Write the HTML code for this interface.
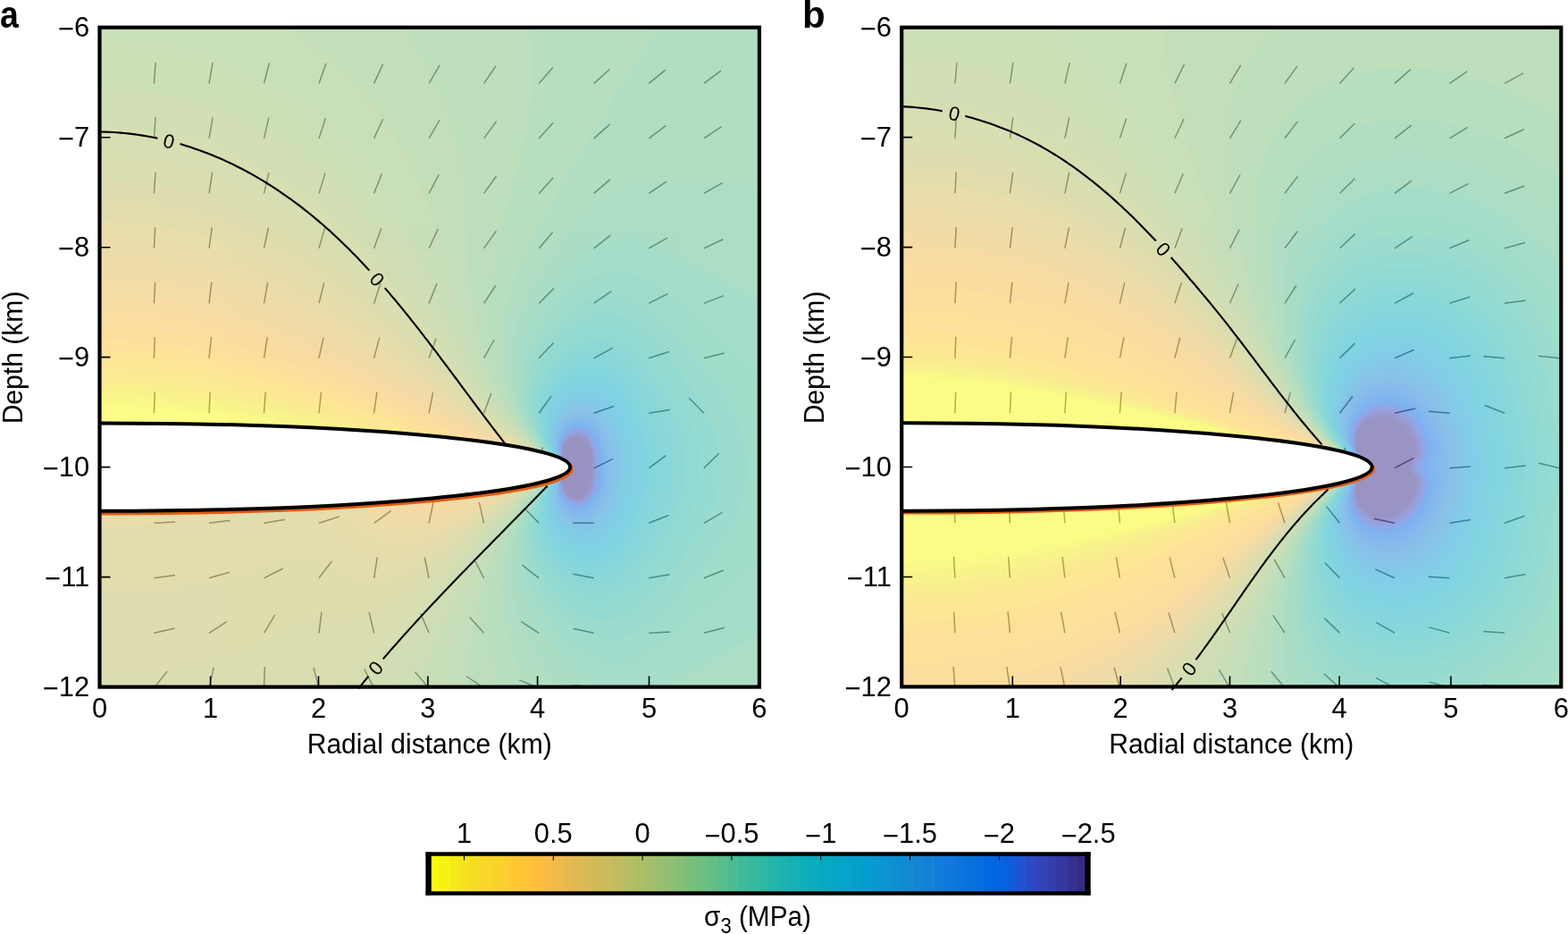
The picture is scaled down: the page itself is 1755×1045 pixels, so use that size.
<!DOCTYPE html><html><head><meta charset="utf-8"><style>html,body{margin:0;padding:0;background:#fff;width:1755px;height:1045px;overflow:hidden}svg{display:block}text{font-family:"Liberation Sans",Arial,sans-serif}</style></head><body>
<svg width="1755" height="1045" viewBox="0 0 1755 1045">
<clipPath id="ca"><rect x="111.5" y="30.7" width="738.4" height="737.9"/></clipPath>
<g clip-path="url(#ca)">
<path d="M172.4 93.4L174.2 69.7M234 93.4L238.1 70M295.5 93.4L301.5 70.3M357 93.4L364.9 70.9M418.6 93.4L428.6 71.8M480.1 93.4L492.1 72.8M541.6 93.4L555.1 73.8M603.2 93.4L618.8 75.4M664.7 93.4L682.4 77.5M726.2 93.4L744.7 78.4M787.8 93.4L806.9 79.2M172.4 154.9L174.1 131.1M234 154.9L238.1 131.4M295.5 154.9L300.9 131.7M357 154.9L364.4 132.2M418.6 154.9L428.6 133.3M480.1 154.9L492 134.3M541.6 154.9L555.6 135.6M603.2 154.9L619.1 137.2M664.7 154.9L682.5 139.1M726.2 154.9L745.2 140.6M787.8 154.9L807.6 141.7M172.4 216.4L174.1 192.6M234 216.4L237.7 192.9M295.5 216.4L300.9 193.2M357 216.4L364 193.6M418.6 216.4L427.5 194.3M480.1 216.4L491.3 195.4M541.6 216.4L555.5 197M603.2 216.4L619.2 198.7M664.7 216.4L682.8 200.9M726.2 216.4L746 203.2M787.8 216.4L808.5 204.7M172.4 277.9L173.7 254.1M234 277.9L237.3 254.3M295.5 277.9L300.4 254.6M357 277.9L363.6 255M418.6 277.9L426.7 255.5M480.1 277.9L490.2 256.3M541.6 277.9L555.4 258.4M603.2 277.9L618.6 259.8M664.7 277.9L683.4 263.1M726.2 277.9L747 266.2M787.8 277.9L809.3 267.8M172.4 339.4L173.7 315.6M234 339.4L236.9 315.7M295.5 339.4L299.6 315.9M357 339.4L362.8 316.3M418.6 339.4L425.9 316.7M480.1 339.4L489 317.3M541.6 339.4L554.8 319.5M603.2 339.4L620 322.5M664.7 339.4L684.2 325.8M726.2 339.4L747.5 328.7M787.8 339.4L810 330.9M172.4 400.8L173.3 377.1M234 400.8L236.5 377.2M295.5 400.8L299.2 377.3M357 400.8L362 377.6M418.6 400.8L424.7 377.9M480.1 400.8L488.2 378.5M541.6 400.8L553.2 380M603.2 400.8L619.5 383.5M664.7 400.8L685.6 389.4M726.2 400.8L748.9 393.5M787.8 400.8L810.8 394.9M172.4 462.3L173.3 438.6M234 462.3L235.2 438.6M295.5 462.3L297.2 438.6M357 462.3L359.5 438.7M418.6 462.3L421.9 438.8M480.1 462.3L484.6 439M541.6 462.3L549.8 440M603.2 462.3L617.2 443.1M664.7 462.3L687.2 454.5M726.2 462.3L749.7 458.6M787.8 462.3L771.2 445.2M603.2 523.8L607.3 500.4M664.7 523.8L686.1 513.4M726.2 523.8L745.3 509.6M787.8 523.8L804.8 507.2M172.4 585.3L196.2 584.1M234 585.3L257.6 582.4M295.5 585.3L318.9 581.2M357 585.3L379.7 578M418.6 585.3L437.8 571.3M480.1 585.3L485 562M541.6 585.3L536.3 562.1M603.2 585.3L586.6 568.2M664.7 585.3L640.9 584.9M726.2 585.3L748.3 576.5M787.8 585.3L808.4 573.4M172.4 646.8L196 643.5M234 646.8L256.8 640.3M295.5 646.8L316.7 636M357 646.8L371.4 627.8M418.6 646.8L422.3 623.3M480.1 646.8L475.2 623.5M541.6 646.8L530.8 625.6M603.2 646.8L584.4 632.2M664.7 646.8L641.3 642.3M726.2 646.8L749.7 642.7M787.8 646.8L809.9 638M172.4 708.3L195.6 703M234 708.3L253.9 695.3M295.5 708.3L307.8 687.9M357 708.3L359.9 684.7M418.6 708.3L413.2 685.1M480.1 708.3L470.8 686.4M541.6 708.3L525.7 690.6M603.2 708.3L583.2 695.3M664.7 708.3L641.5 703.2M726.2 708.3L750 707M787.8 708.3L810.8 702.3M172.4 769.8L187.1 751M234 769.8L239.3 746.6M295.5 769.8L296.3 746M357 769.8L350.9 746.8M418.6 769.8L407.8 748.6M480.1 769.8L464.5 751.8M541.6 769.8L521.9 756.5M603.2 769.8L581.1 760.9M664.7 769.8L641.1 766.5M726.2 769.8L702.4 769.4M787.8 769.8L811.5 767.7" stroke="#000" stroke-opacity="0.6" stroke-width="1.5" fill="none"/>
<g opacity="0.5">
<rect x="108.5" y="27.7" width="744.4" height="743.9" fill="#352a87"/>
<path fill="#363093" d="M114.4 27.7 852.9 27.7 852.9 771.6 108.5 771.6 108.5 27.7 114.4 27.7ZM638.7 489.4 633.2 494 630.4 499.4 629.3 503.6 629.8 512.2 635.8 523.6 631.1 529.3 629.4 535 629.2 540.7 631.9 549.2 636.1 554.2 641.8 557.1 647.5 557.2 652.8 554.9 656 552.1 660.9 543.5 662.6 535 662.5 509.3 659.3 497.9 653.2 490.5 650.3 488.9 644.6 487.8 638.7 489.4Z"/>
<path fill="#3637a0" d="M114.4 27.7 852.9 27.7 852.9 771.6 108.5 771.6 108.5 27.7 114.4 27.7ZM637 489.4 631.8 495.1 628.9 503.6 629.6 512.2 635.7 523.6 632.8 526.4 629.9 532.1 628.8 537.8 629.2 543.5 631.2 549.2 636.1 555.3 641.8 558.2 647.5 558.4 653.2 556.1 656 553.7 659.4 549.2 661.9 543.5 663.5 535 663.1 506.5 658.9 495.2 653.2 489.2 650.3 487.6 644.6 486.7 637 489.4Z"/>
<path fill="#353dad" d="M114.4 27.7 852.9 27.7 852.9 771.6 108.5 771.6 108.5 27.7 114.4 27.7ZM640.2 486.5 633.2 491.7 629 500.8 628.5 506.5 629.4 512.2 635.7 523.6 632.7 526.4 629.7 532.1 628.5 540.7 630.4 548.9 634.5 554.9 641.8 559.4 647.5 559.7 653.2 557.5 656.4 554.9 660.6 549.2 662.9 543.5 664.3 535 664.3 509.3 661.5 497.9 656 489.9 653.2 487.7 647.5 485.6 640.2 486.5Z"/>
<path fill="#3243ba" d="M114.4 27.7 852.9 27.7 852.9 771.6 108.5 771.6 108.5 27.7 114.4 27.7ZM637.8 486.5 631.9 492.2 628.5 500.8 628.2 506.5 629.2 512.2 635.6 523.6 632.6 526.4 629.5 532.1 628.2 537.8 628.3 543.5 630.4 550.4 636.1 557.6 641.8 560.5 647.5 561 653.2 559 656 557 660.2 552.1 663.1 546.4 665.3 535 664.9 506.5 661.7 495.9 656 488.3 653.2 486.3 647.5 484.3 641.8 484.7 637.8 486.5Z"/>
<path fill="#2c4ac7" d="M114.4 27.7 852.9 27.7 852.9 771.6 108.5 771.6 108.5 27.7 114.4 27.7ZM641.2 483.7 636.1 486.4 633.2 489.1 628.6 497.9 627.8 503.6 628.9 512.2 635.6 523.6 632.5 526.4 629.3 532.1 627.9 537.8 627.9 543.5 630.4 551.9 634.8 557.8 641.8 561.9 647.5 562.4 653.2 560.6 657.1 557.8 661.6 552.1 664.2 546.4 666.3 535 666.3 509.3 663.9 497.9 658.9 489.4 656 486.5 650.3 483.5 644.6 482.9 641.2 483.7Z"/>
<path fill="#2053d4" d="M114.4 27.7 852.9 27.7 852.9 771.6 108.5 771.6 108.5 27.7 114.4 27.7ZM638.2 483.7 631.9 489.4 628 497.9 627.4 503.6 628.7 512.2 635.5 523.6 632.4 526.4 629.1 532.1 627.7 537.8 627.5 543.5 629.7 552.1 633.2 557.6 638.9 562.1 647.5 563.8 653.2 562.2 658.9 557.9 663 552.1 665.4 546.4 667.4 535 667.1 506.5 664 495.1 660.6 489.4 656 484.8 647.5 481.5 641.8 482.1 638.2 483.7Z"/>
<path fill="#0f5cdd" d="M114.4 27.7 852.9 27.7 852.9 771.6 108.5 771.6 108.5 27.7 114.4 27.7ZM641.3 480.8 636.1 483.6 633.2 486.2 629.3 492.2 627.5 497.7 627 503.6 628.5 512.2 635.4 523.6 632.3 526.4 628.9 532.1 627 543.5 628.9 552.1 633.2 559.1 638.9 563.4 647.5 565.3 653.2 563.9 658.9 559.9 662.9 554.9 665.7 549.2 668.3 537.8 668.5 509.3 665.3 495.1 658.9 485.3 656 483 650.3 480.4 644.6 480.1 641.3 480.8Z"/>
<path fill="#0363e1" d="M114.4 27.7 852.9 27.7 852.9 771.6 108.5 771.6 108.5 27.7 114.4 27.7ZM638.1 480.8 633.2 484.6 630.4 488.4 626.9 497.9 626.8 506.5 628.3 512.2 635.4 523.6 632.2 526.4 628.7 532.1 626.6 540.7 626.7 546.4 629.3 554.9 633.2 560.6 638.9 565 647.5 566.9 653.2 565.6 658.9 562 662.7 557.8 667.1 549.2 669.7 535 669.5 506.5 667.7 497.9 665.5 492.2 658.9 483.3 653.2 479.6 647.5 478.4 641.8 479.1 638.1 480.8Z"/>
<path fill="#0268e1" d="M114.4 27.7 852.9 27.7 852.9 771.6 108.5 771.6 108.5 27.7 114.4 27.7ZM640.7 478 636.1 480.5 632.6 483.7 628.8 489.4 626.8 495.1 626.1 503.6 627.2 509.3 629.5 515 633.2 519.5 635.3 523.6 632 526.4 628.5 532.1 626.7 537.8 626.2 546.4 628.4 554.9 633.2 562.3 638.9 566.5 647.5 568.6 653.2 567.5 658.9 564.2 664.5 557.8 667.5 552.1 670.8 537.8 671 509.3 668.2 495.1 665.7 489.4 661.6 483.7 656 479.1 650.3 477 644.6 476.9 640.7 478Z"/>
<path fill="#046de0" d="M114.4 27.7 852.9 27.7 852.9 771.6 108.5 771.6 108.5 27.7 114.4 27.7ZM644.9 475.1 638.9 477 633.2 481.3 629.3 486.5 626.8 492.2 625.6 500.8 626.8 509.3 629.3 515 633.2 519.6 635.2 523.6 631.9 526.4 628.3 532.1 626.3 537.8 625.6 546.4 627.5 555 633.2 564 638.9 568.2 647.5 570.4 653.2 569.4 658.9 566.3 664.6 560.5 669.1 552.1 672.2 537.8 672.5 512.2 670.6 497.9 668.7 492.2 664.6 484.8 661.2 480.8 656 477.1 650.3 475.2 644.9 475.1Z"/>
<path fill="#0871de" d="M114.4 27.7 852.9 27.7 852.9 771.6 108.5 771.6 108.5 27.7 114.4 27.7ZM639.2 475.1 633.2 479.4 630.4 482.8 627.5 487.9 625.4 495.1 625.3 503.6 626.5 509.3 629.1 515 633.2 519.6 635.2 523.6 629.7 529.3 626.9 535 625.4 540.7 625.3 549.2 627.7 557.8 633.2 565.8 641.8 571.2 650.3 572 656 570.3 661.8 566.3 666.6 560.6 670.8 552.1 673.7 537.8 673.6 506.5 672.2 497.9 669.2 489.4 665.9 483.7 661.7 478.8 656 474.9 650.3 473.2 644.6 473.3 639.2 475.1Z"/>
<path fill="#0d75dc" d="M114.4 27.7 852.9 27.7 852.9 771.6 108.5 771.6 108.5 27.7 114.4 27.7ZM641.4 472.3 636.1 475.1 630.4 480.7 627.5 485.5 625.2 492.2 624.6 500.8 626.2 509.3 628.9 515 633.2 519.7 635.1 523.6 629.5 529.3 626.6 535 625 540.7 624.6 549.2 627.5 559.8 633.2 567.8 641.8 573.2 650.3 574.1 656 572.6 661.7 569 667.4 562.6 671.5 554.9 674.1 546.4 675.3 537.8 675.2 506.5 673.9 497.9 671.1 489.4 668.1 483.7 663.6 478 658.9 474.2 653.2 471.7 647.5 471 641.4 472.3Z"/>
<path fill="#1079da" d="M114.4 27.7 852.9 27.7 852.9 771.6 108.5 771.6 108.5 27.7 114.4 27.7ZM644.1 469.5 638.9 471.3 633.2 475.4 627.5 483 625 489.4 623.9 497.9 625 506.5 628.7 515 633.2 519.8 635 523.6 629.4 529.3 626.3 535 624.1 543.5 624 549.2 626.7 560.6 633.2 569.9 641.8 575.2 650.3 576.3 658.9 573.6 664.6 569.3 669.2 563.5 673.4 554.9 677 537.8 677.2 509.3 674.1 492.2 670.3 483.7 666.4 478 661.7 473.5 656 470.3 650.3 468.9 644.1 469.5Z"/>
<path fill="#127dd8" d="M114.4 27.7 852.9 27.7 852.9 771.6 108.5 771.6 108.5 27.7 114.4 27.7ZM638.4 469.5 633.2 473.2 629.1 478 625.9 483.7 623.6 492.2 623.5 500.8 625.6 509.3 628.5 515 633.2 519.9 635 523.6 629.2 529.3 626 535 623.6 543.5 623.5 552.1 626.8 563.5 633.2 572.1 641.8 577.4 650.3 578.7 658.9 576.3 664.6 572.3 670.3 565.6 675.5 554.9 677.8 546.4 679.1 535 678.5 503.6 676.9 495.1 674 486.5 670.3 479.7 664.6 472.9 658.9 469 653.2 467 644.6 467 638.4 469.5Z"/>
<path fill="#1481d6" d="M114.4 27.7 852.9 27.7 852.9 771.6 108.5 771.6 108.5 27.7 114.4 27.7ZM639.4 466.6 633.2 470.8 629.3 475.1 625.9 480.8 623.2 489.4 622.6 497.9 624.2 506.5 628.3 515 633.2 520 634.9 523.6 629 529.3 625.7 535 623.1 543.5 623 554.9 626.9 566.3 633.2 574.5 641.8 579.7 647.5 581.1 653.2 580.9 661.5 577.7 667.4 572.9 673.1 565.1 677.7 554.9 679.8 546.4 681.1 535 680.5 503.6 678.2 492.2 675 483.7 670.3 475.8 664.6 469.8 658.9 466.2 653.2 464.4 647.5 464.2 639.4 466.6Z"/>
<path fill="#1485d4" d="M114.4 27.7 852.9 27.7 852.9 771.6 108.5 771.6 108.5 27.7 114.4 27.7ZM640.2 463.8 633.2 468.3 629.5 472.3 625.8 478 622.7 486.5 622 497.9 623.8 506.5 628.1 515 633.2 520.1 634.9 523.6 628.8 529.3 624.2 537.8 622.1 546.4 622.1 554.9 625.3 566.3 628.7 572 633.2 577 641.8 582.3 647.5 583.7 653.2 583.6 661.7 580.7 667.4 576.5 673.5 569.2 679 557.8 682 546.4 683.3 535 682.7 503.6 680.5 492.2 677.5 483.7 672.8 475.1 667.4 468.8 661.7 464.6 653.2 461.6 647.5 461.6 640.2 463.8Z"/>
<path fill="#1389d3" d="M114.4 27.7 852.9 27.7 852.9 771.6 108.5 771.6 108.5 27.7 114.4 27.7ZM640.5 460.9 633.2 465.5 627.5 472 624.2 478 621.8 485.7 621.1 495.1 623.4 506.5 626 512.2 633.2 520.2 634.8 523.6 628.6 529.3 623.8 537.8 621.5 546.4 621.2 554.9 622 560.6 624.7 568.3 631.2 577.7 636.1 582 641.8 585 647.5 586.5 653.2 586.6 661.7 584 670.1 577.7 676 570 680.5 560.6 683.9 549.2 685.5 537.8 686 520.7 685.4 506.5 683.7 495.1 680.2 483.7 675.9 475.1 670.3 467.8 664.6 462.9 656 459.2 647.5 458.8 640.5 460.9Z"/>
<path fill="#108ed2" d="M114.4 27.7 852.9 27.7 852.9 771.6 108.5 771.6 108.5 27.7 114.4 27.7ZM640.3 458.1 633.2 462.6 627.5 468.8 623.9 475.1 621 483.7 620.3 495.1 623 506.5 625.8 512.2 633.2 520.2 634.7 523.6 628.4 529.3 623.3 537.8 620.8 546.4 620.4 557.8 623.4 569.2 627.5 576.5 631 580.6 636.1 584.9 641.8 587.9 647.5 589.5 653.2 589.7 661.7 587.5 670.3 581.7 676.1 574.9 682.2 563.5 685.9 552.1 688.1 537.8 688.7 520.7 688 506.5 685.6 492.2 681.8 480.8 677.4 472.3 670.5 463.8 664.6 459.2 656 455.9 647.5 455.8 640.3 458.1Z"/>
<path fill="#0c93d2" d="M114.4 27.7 852.9 27.7 852.9 771.6 108.5 771.6 108.5 27.7 114.4 27.7ZM649.2 452.4 641.8 454.2 633.2 459.4 626.7 466.6 621.1 478 619.3 489.4 620.6 500.8 625.5 512.2 633.2 520.3 634.7 523.6 628.2 529.3 622.9 537.8 620.2 546.4 619.3 554.9 620.2 563.5 621.8 569.3 624.7 575.5 630.4 583.2 636.1 588 641.8 591.1 647.5 592.7 653.2 593.1 661.7 591.3 670.3 586.1 677.9 577.7 682.9 569.2 687.2 557.8 689.9 546.4 691.4 532.1 691.6 517.9 690.6 503.6 688.5 492.2 684.9 480.8 679.2 469.5 672.2 460.9 664.6 455.3 656 452.5 649.2 452.4Z"/>
<path fill="#0998d1" d="M114.4 27.7 852.9 27.7 852.9 771.6 108.5 771.6 108.5 27.7 114.4 27.7ZM645.7 449.5 638.9 452.2 630.4 458.6 624.3 466.6 619.6 478 618.4 492.2 620.9 503.6 625.2 512.2 629.9 517.9 633.2 520.4 634.6 523.6 628 529.3 622.5 537.8 619.5 546.4 618.3 557.8 619.4 566.3 621.8 573.8 624.7 579.4 630 586.3 636.1 591.4 641.8 594.5 647.5 596.2 653.2 596.8 661.7 595.3 670.3 590.7 678.8 582 685 572 689.6 560.6 693 546.4 694.7 532.1 694.8 515 693.3 500.8 690.2 486.5 685.9 475.1 679.2 463.8 673.1 457 664.6 451.2 656 448.7 645.7 449.5Z"/>
<path fill="#079ccf" d="M114.4 27.7 852.9 27.7 852.9 771.6 108.5 771.6 108.5 27.7 114.4 27.7ZM642.9 446.7 636.1 450.2 627.5 458 621.8 466.8 618.1 478 617.5 492.2 620.3 503.6 624.9 512.2 629.7 517.9 633.2 520.5 634.5 523.6 625.5 532.1 620.7 540.7 617.6 552.1 617.5 563.5 619 571 621.8 578.5 630.4 590.4 636.1 595.1 641.8 598.2 647.5 600.1 656 600.6 664.6 598.6 674.9 592 682.4 583.4 688.9 572 694 557.8 697 543.5 698.5 526.4 697.9 509.3 695.8 495.1 692 480.8 685.4 466.6 678.8 457.3 670.3 449.7 661.7 445.7 653.2 444.5 642.9 446.7Z"/>
<path fill="#06a0cd" d="M114.4 27.7 852.9 27.7 852.9 771.6 108.5 771.6 108.5 27.7 114.4 27.7ZM648 441 638.9 444.4 630.4 450.7 622.4 460.9 617.7 472.3 616.1 486.5 618.7 500.8 624.6 512.2 629.5 517.9 633.2 520.6 634.5 523.6 625.2 532.1 620.2 540.7 616.7 552.1 616.1 563.5 617.5 572 620.5 580.6 624.7 587.9 630.4 594.5 636.1 599.2 641.8 602.3 647.5 604.2 656 605.1 664.6 603.4 674.7 597.7 683.2 589.1 690.4 577.7 696.3 563.5 700 549.2 702.2 532.1 702.3 515 700.4 497.9 696.9 483.7 691.3 469.5 684.5 458 676 448.6 667.4 443.1 658.9 440.5 648 441Z"/>
<path fill="#06a4ca" d="M114.4 27.7 852.9 27.7 852.9 771.6 108.5 771.6 108.5 27.7 114.4 27.7ZM642.8 438.1 633.2 443.8 624.9 452.4 619 462.5 615.8 472.3 614.9 486.5 618 500.8 624.2 512.2 629.3 517.9 633.2 520.7 634.4 523.6 624.9 532.1 619.6 540.7 615.8 552.1 614.9 566.3 616.3 574.9 619.3 583.4 624.7 592.6 630.4 599.1 636.1 603.6 644.6 607.9 653.2 609.8 658.9 609.7 670.3 606.3 678.8 600.4 687.4 590.9 695.1 577.7 700.7 563.5 705.4 543.5 707 526.4 706.4 509.3 703.6 492.2 698.4 475.1 691.6 460.9 683.5 449.5 673.7 441 664.6 436.7 653.2 435.5 642.8 438.1Z"/>
<path fill="#06a7c6" d="M114.4 27.7 852.9 27.7 852.9 771.6 108.5 771.6 108.5 27.7 114.4 27.7ZM644.6 432.4 633.2 438.9 624.7 447.5 618.2 458.1 614.5 469.5 613.4 478 613.7 486.5 617.3 500.8 623.8 512.2 629 517.9 633.2 520.8 634.3 523.6 624.6 532.1 617.7 543.5 614.2 554.9 613.5 569.2 614.9 577.7 617.8 586.3 621.8 593.8 627.5 601.1 633.2 606.4 641.8 611.7 650.3 614.5 658.9 615.1 670.3 612.3 680 606.2 688.4 597.7 697.6 583.4 704.8 566.3 709.4 549.2 712 529.3 711.8 512.2 708.6 492.2 703.5 475.1 695.9 458.9 687.4 446.4 678.8 438.1 667.4 431.9 656 430.1 644.6 432.4Z"/>
<path fill="#07a9c2" d="M114.4 27.7 852.9 27.7 852.9 771.6 108.5 771.6 108.5 27.7 114.4 27.7ZM645.1 426.7 633.2 433.4 624.7 441.8 617.8 452.4 613.3 464.9 611.8 480.8 612.9 489.4 615.4 497.9 619.5 506.5 623.4 512.2 628.8 517.9 633.2 520.9 634.3 523.6 624.2 532.1 617 543.5 612.6 557.8 611.9 572 613.3 580.6 616.1 589.2 621.8 599.7 627.5 606.7 636.1 613.9 644.6 618.4 653.2 620.7 661.7 620.9 673.1 617.7 684.5 610 693.2 600.5 702.1 586.3 709.5 569.2 715.2 549.2 717.9 529.3 717.6 512.2 714.4 492.2 708.1 472.3 700 455.2 690.2 441.1 678.8 430.8 667.4 425.5 656 424.3 645.1 426.7Z"/>
<path fill="#0aacbe" d="M114.4 27.7 852.9 27.7 852.9 771.6 108.5 771.6 108.5 27.7 114.4 27.7ZM653.6 418.2 647.5 419.7 638.9 423.6 627.5 432.5 618.8 443.8 612.5 458.1 610.6 466.6 610 475.1 610.6 483.7 612.5 492.2 615.8 500.8 620.8 509.3 625.6 515 633.2 521.1 634.2 523.6 623.8 532.1 616.3 543.5 611.3 557.8 610 572 611.5 583.4 615.3 594.8 620 603.4 626.7 611.9 636.1 619.9 644.6 624.5 653.2 627.1 661.7 627.6 673.1 625.1 684.5 618.5 695.9 607 705.9 592 714 574.9 720.5 554.9 723.8 537.8 724.7 517.9 722.3 497.9 716.8 478 708.4 458.1 698.8 442 690.2 431.8 678.8 422.9 667.4 418.5 661.7 417.7 653.6 418.2Z"/>
<path fill="#0faeb9" d="M114.4 27.7 852.9 27.7 852.9 771.6 108.5 771.6 108.5 27.7 114.4 27.7ZM648.3 412.5 636.1 418.6 624.7 428.7 619 436.1 614.6 443.8 609.6 458.1 608.3 466.6 608.4 478 609.8 486.5 612.5 495.1 620.3 509.3 625.3 515 633.2 521.3 634.2 523.6 623.4 532.1 614.1 546.4 609.4 560.6 608.2 577.7 610.1 589.1 614.1 600.5 619 609.1 627.5 619.6 636.1 626.6 644.6 631.4 653.2 634.2 664.6 635 673.1 633.3 678.8 631 690.2 623.3 701.6 611.1 712.2 594.8 721.6 574.9 728.3 554.9 731.9 535 732.3 515 729.4 495.1 722.4 472.3 711.7 449.5 700.3 432.4 687.4 419.6 676 413 670.3 411.2 661.7 410.2 648.3 412.5Z"/>
<path fill="#15b1b4" d="M114.4 27.7 852.9 27.7 852.9 771.6 108.5 771.6 108.5 27.7 114.4 27.7ZM650.2 403.9 636.1 411 624.7 421 614.5 435.3 610.5 443.8 607.8 452.4 606.3 460.9 606 472.3 607.1 480.8 610.3 492.2 614.2 500.8 619.8 509.3 625 515 633.2 521.4 634.1 523.6 623 532.1 613.2 546.4 609.6 554.9 607.3 563.5 606 580.6 608.3 594.8 612.5 606.2 619 617.2 627.5 627.2 636.1 634.2 647.5 640.4 656 642.8 667.4 643.4 676 641.6 681.7 639.3 693.2 631.8 706.7 617.6 718.1 600.5 729.6 577.7 737.5 554.9 741.1 535 741.5 515 737.9 492.2 730.3 469.5 717.6 443.8 704.5 424.9 692 412.5 678.8 404.7 673.1 402.9 664.6 401.7 656 402.4 650.2 403.9Z"/>
<path fill="#1db3af" d="M114.4 27.7 852.9 27.7 852.9 771.6 108.5 771.6 108.5 27.7 114.4 27.7ZM659.4 392.5 650.3 394.8 641.8 398.8 627.5 409.4 619.7 418.2 613.9 426.7 606.5 443.8 604.1 455.2 603.5 466.6 604.3 475.1 607 486.5 611.7 497.9 617 506.5 624.7 515 633.2 521.6 634 523.6 622.6 532.1 612.3 546.4 605.6 563.5 603.7 574.9 603.5 583.4 605.5 597.7 609.2 609.1 616.1 622.2 624.7 633 633.2 640.8 644.6 648 656 652.1 667.4 653.3 681.7 650.3 695.9 642.1 709.4 629 723.9 609.1 737.9 583.4 746.8 560.6 751.8 537.8 752.6 517.9 749.6 495.1 742.5 472.3 731.7 449.5 715.4 423.9 701.6 408.1 687.4 397.6 678.8 393.9 673.1 392.6 659.4 392.5Z"/>
<path fill="#25b5a9" d="M114.4 27.7 852.9 27.7 852.9 771.6 108.5 771.6 108.5 27.7 114.4 27.7ZM662.4 381.1 653.2 383.4 644.6 387.1 636.1 392.4 627.5 399.5 619 408.8 613.3 417 607.6 427.8 603.8 438.1 601.4 449.5 600.8 463.8 602.3 475.1 605.5 486.5 610.8 497.9 616.4 506.5 624.3 515 632.2 520.7 634 523.6 625.3 529.3 619.5 535 609.7 549.2 603.1 566.3 601.1 577.7 600.7 586.3 602.2 600.5 606.4 614.8 613.3 628.3 621.8 639.9 633.2 650.8 644.6 658.2 658.9 663.5 670.3 664.6 678.8 663.5 687.4 660.7 701.6 652 710.2 644.3 718.8 634.7 735.3 611.9 750 586.3 759.4 563.5 764.9 540.7 766.1 517.9 763.1 495.1 760.1 483.7 754.8 469.5 741.8 443.8 724.8 418.2 707.4 398.2 693.1 387.4 678.8 381.7 670.3 380.6 662.4 381.1Z"/>
<path fill="#2eb7a4" d="M114.4 27.7 852.9 27.7 852.9 771.6 108.5 771.6 108.5 27.7 114.4 27.7ZM656.9 369.7 647.5 373.6 638.9 378.7 630.4 385.3 621.8 393.8 613.9 403.9 608.6 412.5 604.5 421 600.6 432.4 598.3 443.8 597.6 458.1 599.5 472.3 602.8 483.7 608 495.1 615.7 506.5 623.9 515 632 520.7 633.9 523.6 625 529.3 619 535 612.1 543.5 607 552.1 603.2 560.6 599.7 572 597.9 583.4 597.7 594.8 600.3 611.9 605.3 626.1 613.3 640.4 624.7 654.5 636.1 664.6 650.3 673 661.7 676.9 676 678 684.5 676.6 693.1 673.5 701.6 668.8 710.2 662.3 721.1 651.8 731.2 640.4 752.1 611.9 767.1 586.3 776.5 563.5 779.7 552.1 782.2 537.8 782.9 515 781.2 500.8 778 486.5 774.2 475.1 768 460.9 751.4 432.4 739.4 415.3 727.3 400.3 710.2 383 701.6 376.5 693.1 371.7 684.5 368.7 676 367.3 667.4 367.4 656.9 369.7Z"/>
<path fill="#38b99e" d="M114.4 27.7 852.9 27.7 852.9 771.6 108.5 771.6 108.5 27.7 114.4 27.7ZM663.5 352.6 653.2 356.4 641.8 362.8 630.4 371.6 621.8 380.1 613.3 390.8 606.8 401.1 601.2 412.5 597.3 423.9 594.5 438.1 594 452.4 595.8 466.6 599.9 480.8 605.2 492.2 612.6 503.6 620.2 512.2 631.9 520.7 633.8 523.6 628.6 526.4 618.4 535 611.2 543.5 604.2 554.9 599.2 566.3 596 577.7 594.3 589.1 594 600.5 596.4 617.6 601.9 634.3 610.4 650.3 621.8 665.1 636.1 678.4 650.3 687.5 664.6 692.9 678.8 694.4 690.2 692.7 698.8 689.6 707.4 684.9 718.8 676.3 730.2 665.8 743.2 651.8 770.4 617.6 786.7 592 797 569.2 800.6 557.8 803.6 543.5 805.1 529.3 805.2 517.9 803.9 503.6 801.1 489.4 796.7 475.1 790.6 460.9 782.9 446.7 773.7 432.4 744.9 395.4 721.6 371.4 710.2 362.3 701.6 357.1 693.1 353.4 681.7 351 673.1 350.9 663.5 352.6Z"/>
<path fill="#42bb98" d="M114.4 27.7 852.9 27.7 852.9 771.6 108.5 771.6 108.5 27.7 114.4 27.7ZM667.1 332.7 656 337 644.6 343.7 633.2 352.5 621.8 363.7 613.3 374.2 604.7 387.3 597.9 401.1 593.3 414.5 590.4 429.6 589.7 443.8 591.6 460.9 595.6 475.1 602.1 489.4 611.7 503.6 619.7 512.2 631.7 520.7 633.8 523.6 624.3 529.3 614.9 537.8 608.1 546.4 601.1 557.8 595 572 591.8 583.4 589.9 597.7 589.8 609.1 592.9 629 599 646.8 609.7 666 621.8 681.5 636.1 695.2 653.2 706.8 670.3 713.4 684.5 714.9 695.9 713.3 707.4 709 718.8 702.2 730.2 693.7 745.4 680.3 762.4 663.2 783.4 640.4 800 620.5 817 594.8 822.7 583.4 828.4 569.2 834.5 543.5 835.9 529.3 835.9 515 833.9 497.9 830.7 483.7 825.9 469.5 819.5 455.2 811.3 441 801.4 426.7 772.2 392.5 738.1 358.3 724.2 346.9 710.2 337.8 701.6 333.8 690.2 330.9 678.8 330.5 667.1 332.7Z"/>
<path fill="#4dbc92" d="M114.4 27.7 852.9 27.7 852.9 424.5 835.1 406.8 817.9 389.7 776.2 352.6 750.1 331.2 733 319.2 715.9 309.7 704.5 305.4 690.2 303.6 681.7 304.3 673.1 306.4 656 314.2 636.1 329 619 346.7 604.7 366.4 593.3 388.9 587 409.6 584.7 432.4 585.6 446.7 587.7 458.1 592.1 472.3 597.2 483.7 604.1 495.1 613.3 506.5 622.6 515 631.6 520.7 633.7 523.6 623.9 529.3 617 535 609.1 543.5 601 554.9 594.9 566.3 590.4 577.7 587.2 589.1 585.3 600.5 585.2 623.3 586.8 634.7 590.5 648.5 600.6 671.7 616.1 695.1 627.5 708.1 638.9 718.8 650.3 727.5 664.6 735.6 676 739.7 687.4 741.6 698.8 741 707.4 739 718.8 734.2 733 726.1 747.3 716.3 763.9 703.1 821.9 651.8 838.5 634.7 852.9 620.7 852.9 771.6 108.5 771.6 108.5 27.7 114.4 27.7Z"/>
<path fill="#59bd8c" d="M114.4 27.7 852.9 27.7 852.9 339.6 772.2 292.8 744.4 278.2 727.3 271.3 713.1 267.2 701.6 266 690.2 267.2 676 271.9 658.9 281.8 641.8 295.8 624.7 313.6 610.4 331.8 597.4 352.6 588.1 372.6 582.6 389.7 579.2 409.6 578.8 429.6 581.7 449.5 587 466.6 595.2 483.7 607.2 500.8 618.5 512.2 631.4 520.7 633.6 523.6 619.7 532.1 608 543.5 595.7 560.6 587.4 577.7 582 594.8 578.9 614.8 578.8 631.8 581.7 651.8 586.7 668.9 593.3 684.7 601.9 700.4 613.3 717.4 624.7 731.7 638.9 746.8 653.2 759.2 666.9 771.6 108.5 771.6 108.5 27.7 114.4 27.7ZM852.9 705.7 852.9 771.6 741 771.6 770.1 753.7 852.9 705.7Z"/>
<path fill="#65be86" d="M114.4 27.7 852.9 27.7 852.9 209.6 821.4 209.3 758.7 204.6 730.2 204.1 707.4 206.3 698.8 209 687.4 214.6 673.1 224.4 656 239.8 638.9 258.4 621.8 279.9 607.6 300.5 595.2 321.3 585.5 341.2 578.1 361.2 572.9 384 571 406.8 572.7 429.6 578.2 452.4 588 475.1 601.1 495.1 614.5 509.3 621.7 515 631.2 520.7 633.6 523.6 622.9 529.3 606.8 543.5 593.6 560.6 584.2 577.7 577.6 594.8 572.9 614.8 571.1 634.7 572 654.6 577 680.3 587.6 708.9 602.8 737.3 624.3 771.6 108.5 771.6 108.5 27.7 114.4 27.7Z"/>
<path fill="#71bf80" d="M114.4 27.7 733.8 27.7 720.2 56.3 684.5 112.2 650.3 169.2 601.9 254.7 587.6 283.3 577.5 307.1 569.8 329.8 565 349.8 561.7 375.4 561.9 401.1 565.7 426.7 572.6 449.5 583.4 472.3 597.1 492.2 613.6 509.3 621.1 515 630.4 520.2 633.5 523.6 622.5 529.3 611.4 537.8 600.2 549.2 589.4 563.5 580.8 577.7 574.1 592 568.2 609.1 564.2 626.1 561.9 643.2 561.3 660.3 562.3 677.4 564.8 694.5 568.7 711.6 574 728.7 581.9 749.1 590.8 771.6 108.5 771.6 108.5 27.7 114.4 27.7Z"/>
<path fill="#7cbf7b" d="M114.4 27.7 591.6 27.7 594.8 50.6 596 70.6 595.5 93.4 593.4 116.2 589.5 141.8 584.3 167.5 561 258.6 553.1 295.7 549.9 318.5 548.2 338.4 547.9 358.3 548.8 375.4 551.8 398.2 557.1 421 565.2 443.8 575 463.8 586.1 480.8 600.3 497.9 612.7 509.3 620.4 515 630.4 520.3 633.5 523.6 622 529.3 610.5 537.8 598.6 549.2 588.9 560.6 579 574.9 570.9 589.1 564.4 603.4 558.2 620.5 553.7 637.5 550.5 654.6 547.9 688.8 549.8 725.9 556.8 771.6 108.5 771.6 108.5 27.7 114.4 27.7Z"/>
<path fill="#87bf77" d="M114.4 27.7 449.3 27.7 465 52.2 479.3 75.6 489.7 96.2 499 119 506.3 141.8 512.4 167.5 516.3 190.2 519.4 215.9 525.9 304.2 529.9 341.2 536.5 378.3 546.2 412.5 554.1 432.4 562.5 449.5 572.8 466.6 583.2 480.8 595.8 495.1 608.1 506.5 619.8 515 630.4 520.5 633.4 523.6 626.5 526.4 613 535 602.7 543.5 591.3 554.9 581.7 566.3 571.6 580.6 563 594.8 554.5 611.9 542.8 643.2 534.3 677.4 528.3 717.3 523.9 771.6 108.5 771.6 108.5 27.7 114.4 27.7Z"/>
<path fill="#92bf73" d="M114.4 27.7 318.1 27.7 339.6 44.4 359.5 59.2 379.5 76.2 396.6 93 413.7 112.4 428 131 442.2 152.6 455.4 176 467.9 202.6 479.8 233 490.7 266.1 522.2 372.6 533.8 403.9 545.7 429.6 555.3 446.7 564.6 460.9 585.3 486.5 606.9 506.5 619.2 515 630.4 520.6 633.3 523.6 626.1 526.4 612 535 601.1 543.5 588.9 554.9 569.4 577.7 550.8 606.2 536.7 634.7 524.5 666 513.5 700.2 493.8 771.6 108.5 771.6 108.5 27.7 114.4 27.7Z"/>
<path fill="#9cbf6f" d="M114.1 44.9 151.4 47.2 185.6 52.3 219.8 60.7 251.2 71.4 282.6 85.3 313.9 102.9 342.4 122.6 368.1 144.1 388 163.7 408 186.6 425.6 210.2 444 238.7 456.5 260.8 470.7 288.8 522.7 401.1 536.5 426.7 549.2 446.7 569.1 472.3 588.4 492.2 609.5 509.3 618.5 515 630.4 520.7 633.2 523.5 625.7 526.4 615.3 532.1 592.6 549.2 569.9 572 549.9 597.7 535.4 620.5 520.3 648.9 464.7 771.6 108.5 771.6 108.5 43.3 114.1 44.9Z"/>
<path fill="#a5be6b" d="M112.3 96.2 114.4 99.1 151.4 101.3 185.6 106.5 214.1 113.5 242.6 122.8 271.2 134.8 299.7 149.7 325.3 165.9 351 185.1 373.8 205.1 393.7 225.3 413.7 248.2 430.8 270.4 462.2 317.1 523 418.2 536.5 438.1 549.7 455.2 567.6 475.1 589.2 495.1 608.3 509.3 617.7 515 630.1 520.7 633.1 523.6 625.3 526.4 614.3 532.1 593.9 546.4 571.4 566.3 548.1 592 535.1 609.1 521.8 629 462.2 728.2 435.4 771.6 108.5 771.6 108.5 95.4 112.3 96.2Z"/>
<path fill="#aebe67" d="M114 141.8 148.6 144.1 177.1 148.1 205.6 154.3 234.1 162.9 262.6 174.1 288.3 186.4 313.9 201.2 339.6 218.6 362.4 236.5 382.3 254.2 402.3 274.1 422.3 296.2 456.5 339 522.5 429.6 536.2 446.7 551.6 463.8 569.5 480.8 590.4 497.9 607 509.3 616.9 515 629.7 520.7 632.8 523.6 624.8 526.4 613.4 532.1 591.6 546.4 570.6 563.5 547.2 586.3 532.2 603.4 516.7 623.3 445.1 721.2 425.1 745.7 404.7 771.6 108.5 771.6 108.5 140.5 114 141.8Z"/>
<path fill="#b7bd64" d="M114.4 174.7 142.9 176 171.4 179.4 199.9 185.2 225.5 192.3 254 202.4 279.7 213.8 305.4 227.3 331 243.2 353.8 259.5 373.8 275.5 393.7 293.2 413.7 312.6 450.8 353.1 522.2 438.1 549.5 466.6 569.2 483.7 592.1 500.8 610.6 512.2 629.4 520.7 632.5 523.6 612.3 532.1 593.6 543.5 570.4 560.6 547.5 580.6 518.1 611.9 459.3 682.2 430.8 714.6 402.3 744 375.2 771.6 108.5 771.6 108.5 174.6 114.4 174.7Z"/>
<path fill="#c0bc60" d="M113.5 201.6 140 202.7 168.5 205.9 197 211.3 222.7 218.1 248.3 226.7 274 237.2 299.7 249.8 325.3 264.6 348.1 279.6 368.1 294.2 388 310.4 410.9 330.5 447.9 366.9 523.5 446.7 551.2 472.3 569.3 486.5 590 500.8 609.4 512.2 629 520.7 632.2 523.6 617.1 529.3 600.8 537.8 582.8 549.2 563 563.5 535.6 586.3 482.1 638 459.3 658.4 436.5 675.6 416.6 686.8 402.3 692.1 388 694.9 376.6 695.5 351 694.5 339.6 696.3 299.7 714.7 271.2 726.2 239.8 736.7 208.4 744.8 162.8 752.6 108.5 756.1 108.5 201.3 113.5 201.6Z"/>
<path fill="#c8bc5d" d="M114.4 225.6 140 226.6 168.5 229.7 194.2 234.4 219.8 240.7 245.5 248.9 271.2 258.9 296.8 270.8 319.6 283 342.4 296.8 362.4 310.3 405.1 343.2 442.2 376 522.8 452.4 550 475.1 569.8 489.4 592.4 503.6 614.1 515 628.6 520.7 631.9 523.6 610.1 532.1 579.9 549.2 546.8 572 499.2 610.4 476.4 627.3 453.6 640.8 433.7 648.6 422.3 650.8 413.7 651.1 396.6 648.4 382.3 642.4 351 624.1 339.6 621.3 333.9 622.1 299.7 632.9 268.3 641.6 217 652.7 165.7 659.7 108.5 662.4 108.5 224.9 114.4 225.6Z"/>
<path fill="#d1bb59" d="M114.4 247 140 248 165.7 250.7 191.3 255 217 261 242.6 268.6 268.3 278.1 291.1 287.9 316.8 300.8 359.5 326.2 402.3 356.6 442.2 388.8 519.4 455.2 548.9 478 570.6 492.2 590.2 503.6 610.4 513.9 628.3 520.7 631.6 523.6 610.4 531.4 576.8 549.2 549.4 566.3 502.1 599 482.1 611 462.2 620.2 442.2 625.3 430.8 625.9 422.3 625 410.9 621.8 401.9 617.6 393 611.9 382.7 603.4 351 571.6 342.4 566 336.7 564.5 265.5 576.3 214.1 583.1 162.8 587.5 108.5 589.1 108.5 247 114.4 247Z"/>
<path fill="#d9ba56" d="M114.4 266.5 140 267.5 162.8 269.7 188.5 273.7 214.1 279.3 236.9 285.6 262.6 294.3 288.3 304.7 313.9 316.7 356.7 340.4 399.4 368.5 436.5 395.8 516.1 458.1 544.8 478.8 584.8 502.2 607.6 513.3 627.9 520.7 631.4 523.6 610.4 530.7 584.8 543.1 559.1 557.2 507.8 587.8 490.7 596.6 470.7 604.4 450.8 608.1 439.4 607.9 428 605.6 416.6 600.9 408 595.7 399.4 588.9 391.1 580.6 371.4 554.9 367.4 552.1 336.7 549.8 108.5 550.9 108.5 266 114.4 266.5Z"/>
<path fill="#e1b952" d="M112.2 287.1 165.7 291.2 211.3 299.4 234.1 305.3 259.8 313.4 305.4 331.5 348.1 352.9 393.7 379.9 436.5 408.3 515.4 463.8 546.5 483.7 587.6 505.3 607.6 514 627.5 520.7 631.1 523.6 616.1 528 590.5 538.7 502.1 582.4 479.3 589.8 462.2 592.3 445.1 590.9 436.5 588.5 428 584.8 419.4 579.5 410.9 572.5 392 552.1 377.3 549.2 336.7 547.2 108.5 548.1 108.5 287 112.2 287.1Z"/>
<path fill="#e9b94e" d="M114.4 309.7 160 312.3 182.8 315.3 208.4 320 254 332 302.5 349.6 345.3 369.1 388 392 430.8 417.4 514.2 469.5 544.1 486.5 586.5 506.5 607.6 514.8 626.7 520.7 630.8 523.6 616.1 527.5 595.8 535 510.6 570.9 490.7 576.5 473.6 578.6 456.5 577.2 442.2 572.6 428 564.1 414.1 552.1 402.6 549.2 379.5 546.6 339.6 545.2 108.5 545.9 108.5 310.2 114.4 309.7Z"/>
<path fill="#f1b94a" d="M114.4 329.8 160 332.2 205.6 339 251.2 350 296.8 365.1 339.6 382.7 382.3 403.2 425.1 425.9 508.5 472.3 541.7 489.4 582.1 506.5 605.9 515 625.8 520.7 630.5 523.6 600.2 532.1 519.2 561.6 502.1 565.8 485 567.8 470.7 567 459.3 564.5 447.9 559.8 435.1 552.1 424.4 549.2 404.4 546.4 382.3 544.7 339.6 543.3 108.5 544.2 108.5 329.1 114.4 329.8Z"/>
<path fill="#f8bb44" d="M114.4 348.4 157.1 350.5 202.7 356.6 245.5 365.9 291.1 379.5 331 394.2 376.6 413.8 502.2 475.1 539.3 492.2 576.7 506.5 603 515 624.9 520.7 629.9 523.6 606.2 529.3 550.5 547.3 527.7 553.8 510.6 557.4 496.4 558.9 476.4 557.6 446.4 549.2 428.1 546.4 379.5 542.6 339.6 541.8 108.5 542.6 108.5 348.5 114.4 348.4Z"/>
<path fill="#fdbe3d" d="M114.4 365.9 157.1 367.9 199.9 373.1 242.6 381.6 288.3 394 328.2 407.4 368.1 422.8 495.2 478 536.8 495.1 579.5 509.3 623.7 520.7 629.1 523.6 603 529.3 539.1 546.9 519.2 550.6 504.9 551.7 485 550.9 425.5 543.5 372.1 540.7 108.5 541.2 108.5 365.9 114.4 365.9Z"/>
<path fill="#ffc337" d="M114.4 380.4 154.3 382 197 386.7 239.8 394.5 282.6 405.1 319.6 416.3 362.4 431.2 489.2 480.8 535.6 497.9 584.3 512.2 622.4 520.7 628.4 523.6 599.7 529.3 536.3 544.6 507.8 547.6 487.8 547.1 409.3 540.7 370.9 539.5 108.5 540.1 108.5 380.1 114.4 380.4Z"/>
<path fill="#fec832" d="M114.4 390.8 154.3 392.4 194.2 396.5 236.9 403.7 279.7 413.6 316.8 424.1 356.7 436.9 486.1 483.7 530.6 498.8 579.8 512.2 621 520.7 627.6 523.6 596.5 529.3 542 541.3 510.6 544.9 487.8 544.6 413.7 539.7 365.2 538.3 108.5 539.2 108.5 390.8 114.4 390.8Z"/>
<path fill="#fcce2e" d="M114.4 401 151.4 402.3 191.3 406 231.2 412.2 274 421.2 311.1 430.9 351 442.7 482.9 486.5 528.9 500.8 574.6 512.2 619 520.6 626.5 523.6 607.9 526.4 542 539.3 510.6 542.5 487.8 542.4 416.6 538.6 365.2 537.3 108.5 538.3 108.5 401 114.4 401Z"/>
<path fill="#fad32a" d="M114.4 410.9 151.4 412.1 191.3 415.7 231.2 421.5 271.2 429.4 345.3 448.5 469.8 486.5 519.5 500.8 568.2 512.2 617.7 520.7 625.4 523.6 542 537.5 507.8 540.5 362.4 536.4 108.5 537.5 108.5 411 114.4 410.9Z"/>
<path fill="#f7d826" d="M114.4 420.3 160 422 194.2 425.2 234.1 430.8 265.5 436.6 339.6 454.1 465.1 489.4 520.4 503.6 560.8 512.2 615.6 520.7 624.2 523.6 539.1 536.2 504.9 538.7 359.5 535.5 108.5 536.8 108.5 420.3 114.4 420.3Z"/>
<path fill="#f5de21" d="M114.4 427.4 148.6 428.3 185.6 431.1 222.7 435.7 262.6 442.5 331 457.5 464.2 492.2 511.5 503.6 559.1 513.1 613.3 520.7 622.8 523.6 533.4 535.3 504.9 537.1 359.5 534.7 108.5 536.1 108.5 427.1 114.4 427.4Z"/>
<path fill="#f5e41d" d="M114.4 434.2 148.6 435.1 182.8 437.5 219.8 441.8 256.9 447.6 328.2 462.2 451.3 492.2 504.9 504.4 553.4 513.3 610.7 520.7 621.1 523.6 536.3 533.6 502.1 535.8 359.5 534 108.5 535.3 108.5 434.2 114.4 434.2Z"/>
<path fill="#f5eb18" d="M114.4 440.9 148.6 441.8 182.8 444.1 217 447.8 254 453.2 319.6 465.7 449.4 495.1 499.2 505.5 550.5 514.2 607.4 520.7 619.1 523.6 533.4 532.5 499.2 534.4 359.5 533.3 108.5 534.6 108.5 440.7 114.4 440.9Z"/>
<path fill="#f6f313" d="M114.4 447.6 145.7 448.3 179.9 450.4 248.3 458.4 316.8 470.5 439.4 496.3 493.5 506.8 553.4 516 602.8 520.7 616.2 523.6 520.4 532.1 493.5 533.2 362.4 532.6 108.5 533.8 108.5 447.6 114.4 447.6Z"/>
<path fill="#f9fb0e" d="M114.4 454.6 149.2 455.2 191.9 458.1 242.6 463.9 313.9 475.5 422.3 497 485 508.2 544.8 516.6 596.3 520.7 611.5 523.6 587.6 524.8 538.9 529.3 482.1 532.1 370.9 531.7 108.5 533 108.5 454.6 114.4 454.6Z"/>
</g>
<ellipse cx="112.7" cy="525" rx="526.7" ry="49.2" fill="none" stroke="#e35a12" stroke-width="4.4"/>
<ellipse cx="111.5" cy="522.6" rx="526.7" ry="49.2" fill="#fff" stroke="#000" stroke-width="4"/>
</g>
<path d="M111.5 768.6v-12M111.5 30.7h12M235.6 768.6v-12M111.5 153.7h12M356.5 768.6v-12M111.5 276.7h12M478.9 768.6v-12M111.5 399.6h12M601.6 768.6v-12M111.5 522.6h12M726.5 768.6v-12M111.5 645.6h12M849.9 768.6v-12M111.5 768.6h12" stroke="#000" stroke-width="1.6" fill="none"/>
<rect x="111.5" y="30.7" width="738.4" height="737.9" fill="none" stroke="#000" stroke-width="4.2"/>
<text transform="translate(111.5 803) scale(0.965 1)" font-size="32" text-anchor="middle">0</text>
<text transform="translate(100.2 40.8) scale(0.965 1)" font-size="32" text-anchor="end"><tspan dy="2.6">−</tspan><tspan dy="-2.6">6</tspan></text>
<text transform="translate(235.6 803) scale(0.965 1)" font-size="32" text-anchor="middle">1</text>
<text transform="translate(100.2 163.8) scale(0.965 1)" font-size="32" text-anchor="end"><tspan dy="2.6">−</tspan><tspan dy="-2.6">7</tspan></text>
<text transform="translate(356.5 803) scale(0.965 1)" font-size="32" text-anchor="middle">2</text>
<text transform="translate(100.2 286.8) scale(0.965 1)" font-size="32" text-anchor="end"><tspan dy="2.6">−</tspan><tspan dy="-2.6">8</tspan></text>
<text transform="translate(478.9 803) scale(0.965 1)" font-size="32" text-anchor="middle">3</text>
<text transform="translate(100.2 409.8) scale(0.965 1)" font-size="32" text-anchor="end"><tspan dy="2.6">−</tspan><tspan dy="-2.6">9</tspan></text>
<text transform="translate(601.6 803) scale(0.965 1)" font-size="32" text-anchor="middle">4</text>
<text transform="translate(100.2 532.7) scale(0.965 1)" font-size="32" text-anchor="end"><tspan dy="2.6">−</tspan><tspan dy="-2.6">10</tspan></text>
<text transform="translate(726.5 803) scale(0.965 1)" font-size="32" text-anchor="middle">5</text>
<text transform="translate(100.2 655.7) scale(0.965 1)" font-size="32" text-anchor="end"><tspan dy="2.6">−</tspan><tspan dy="-2.6">11</tspan></text>
<text transform="translate(849.9 803) scale(0.965 1)" font-size="32" text-anchor="middle">6</text>
<text transform="translate(100.2 778.7) scale(0.965 1)" font-size="32" text-anchor="end"><tspan dy="2.6">−</tspan><tspan dy="-2.6">12</tspan></text>
<text transform="translate(480.7 843) scale(0.955 1)" font-size="31.5" text-anchor="middle">Radial distance (km)</text>
<text transform="translate(24.5 400) rotate(-90) scale(0.955 1)" font-size="31.5" text-anchor="middle">Depth (km)</text>
<clipPath id="cb"><rect x="1009.2" y="30.7" width="738.1" height="737.7"/></clipPath>
<g clip-path="url(#cb)">
<path d="M1068.9 93.4L1071.1 69.7M1130.4 93.4L1134 69.8M1191.9 93.4L1197.3 70.2M1253.4 93.4L1260.9 70.8M1314.9 93.4L1325.4 72M1376.5 93.4L1388.7 73M1438 93.4L1451.9 74.1M1499.5 93.4L1515.4 75.7M1561 93.4L1578.8 77.6M1622.5 93.4L1642.1 79.9M1684 93.4L1704.9 81.9M1068.9 154.8L1070.3 131.1M1130.4 154.8L1133.9 131.3M1191.9 154.8L1196.7 131.5M1253.4 154.8L1260.8 132.2M1314.9 154.8L1325 133.3M1376.5 154.8L1388.9 134.6M1438 154.8L1452.4 135.9M1499.5 154.8L1516.3 138M1561 154.8L1579.7 140.2M1622.5 154.8L1642.7 142.3M1684 154.8L1705.6 144.8M1068.9 216.3L1070.3 192.6M1130.4 216.3L1133.7 192.8M1191.9 216.3L1196.7 193M1253.4 216.3L1260.4 193.6M1314.9 216.3L1324.2 194.4M1376.5 216.3L1388 195.5M1438 216.3L1452.4 197.4M1499.5 216.3L1516.5 199.7M1561 216.3L1580.1 202.2M1622.5 216.3L1643.6 205.4M1684 216.3L1706.3 208M1068.9 277.8L1070.2 254M1130.4 277.8L1133.3 254.2M1191.9 277.8L1196.5 254.4M1253.4 277.8L1259.6 254.8M1314.9 277.8L1323.1 255.4M1376.5 277.8L1387.3 256.6M1438 277.8L1452.3 258.8M1499.5 277.8L1516.9 261.6M1561 277.8L1580.8 264.7M1622.5 277.8L1644.4 268.5M1684 277.8L1706.9 271.5M1068.9 339.3L1070.2 315.5M1130.4 339.3L1132.9 315.6M1191.9 339.3L1196.1 315.8M1253.4 339.3L1258.8 316.1M1314.9 339.3L1322.3 316.6M1376.5 339.3L1386.1 317.5M1438 339.3L1450.9 319.3M1499.5 339.3L1517 323.1M1561 339.3L1581.9 328M1622.5 339.3L1645.2 332.2M1684 339.3L1707.6 336.3M1068.9 400.7L1069.9 377M1130.4 400.7L1132.5 377M1191.9 400.7L1195.2 377.2M1253.4 400.7L1258 377.4M1314.9 400.7L1320.7 377.7M1376.5 400.7L1384.6 378.4M1438 400.7L1449.6 380M1499.5 400.7L1516.5 384.1M1561 400.7L1582.8 391.2M1622.5 400.7L1646.1 398.1M1684 400.7L1660.3 398.7M1068.9 462.2L1069.7 438.4M1130.4 462.2L1131.5 438.4M1191.9 462.2L1193.3 438.5M1253.4 462.2L1255.2 438.5M1314.9 462.2L1317 438.5M1376.5 462.2L1380.6 438.8M1438 462.2L1444.2 439.3M1499.5 462.2L1514 443.3M1561 462.2L1584.2 457.1M1622.5 462.2L1598.8 460.2M1684 462.2L1661.8 453.5M1499.5 523.7L1505.6 500.7M1561 523.7L1582.1 512.7M1622.5 523.7L1646.2 522M1684 523.7L1707.6 521M1068.9 585.2L1067.7 561.4M1130.4 585.2L1129.2 561.4M1191.9 585.2L1189.9 561.5M1253.4 585.2L1251.4 561.5M1314.9 585.2L1312 561.6M1376.5 585.2L1372.3 561.7M1438 585.2L1430.6 562.5M1499.5 585.2L1484.6 566.6M1561 585.2L1537.7 580.2M1622.5 585.2L1646 581.5M1684 585.2L1706.4 577.2M1068.9 646.7L1067.5 622.9M1130.4 646.7L1128.7 622.9M1191.9 646.7L1189.1 623M1253.4 646.7L1249.3 623.2M1314.9 646.7L1309.2 623.6M1376.5 646.7L1368.9 624.1M1438 646.7L1426.2 625.9M1499.5 646.7L1482.9 629.5M1561 646.7L1539.2 636.9M1622.5 646.7L1598.7 645.3M1684 646.7L1707.5 642.6M1068.9 708.1L1067.7 684.4M1130.4 708.1L1128.1 684.4M1191.9 708.1L1187.6 684.7M1253.4 708.1L1248.1 684.9M1314.9 708.1L1308 685.4M1376.5 708.1L1367.9 685.9M1438 708.1L1424.8 688.3M1499.5 708.1L1482.3 691.6M1561 708.1L1540.3 696.3M1622.5 708.1L1599.5 701.9M1684 708.1L1660.2 706.5M1068.9 769.6L1067 745.9M1130.4 769.6L1126.9 746.1M1191.9 769.6L1187 746.3M1253.4 769.6L1247 746.7M1314.9 769.6L1306.5 747.4M1376.5 769.6L1364.4 749.1M1438 769.6L1422.8 751.2M1499.5 769.6L1481.8 753.7M1561 769.6L1540 758.4M1622.5 769.6L1599.6 762.9M1684 769.6L1660.4 766.3M1745.5 400.7L1721.8 398.3M1745.5 523.7L1722.3 518.2" stroke="#000" stroke-opacity="0.6" stroke-width="1.5" fill="none"/>
<g opacity="0.5">
<rect x="1006.2" y="27.7" width="744.1" height="743.7" fill="#352a87"/>
<path fill="#363093" d="M1012 27.7 1750.3 27.7 1750.3 771.4 1006.2 771.4 1006.2 27.7 1012 27.7ZM1540 466.5 1533.6 468.7 1527.9 472.4 1522.2 478.7 1518.6 486.4 1517.3 497.8 1519.2 506.4 1523.9 514.9 1530.7 521.1 1531.5 523.4 1524.8 529.1 1520.9 534.8 1517.8 543.4 1517.3 551.9 1520.5 563.3 1527.9 572.6 1533.6 576.3 1539.3 578.4 1550.7 579.1 1559.2 577 1568.3 571.9 1576.3 563.8 1581.7 554.8 1584.6 546.2 1585.1 540.5 1583.7 534.8 1578.4 526.3 1577.5 523.4 1578.8 517.8 1584.1 509.2 1584.9 500.7 1582.5 492.1 1579.2 485.4 1573.5 477.9 1567.8 472.8 1562.1 469.3 1553.5 466.3 1547.8 465.7 1540 466.5Z"/>
<path fill="#3637a0" d="M1012 27.7 1750.3 27.7 1750.3 771.4 1006.2 771.4 1006.2 27.7 1012 27.7ZM1534.8 466.5 1527.9 470.6 1522.2 476.7 1519.3 481.8 1517.1 489.3 1516.8 497.8 1518.9 506.4 1523.8 514.9 1530.7 521.2 1531.4 523.4 1524.7 529.1 1520.6 534.8 1517.4 543.4 1516.9 554.8 1519.3 563.2 1522.2 568.3 1530.7 576.4 1536.4 579.2 1542.1 580.7 1553.5 580.5 1562.1 577.7 1570.6 572.3 1578.8 563.3 1583.6 554.8 1586.3 546.2 1586.8 540.5 1585.3 534.8 1579 523.4 1580.4 517.8 1585.7 509.2 1586.6 500.7 1584.3 492.1 1580.1 483.6 1573.5 475.3 1567.8 470.5 1559.2 466.1 1550.7 464.1 1542.1 464.3 1534.8 466.5Z"/>
<path fill="#353dad" d="M1012 27.7 1750.3 27.7 1750.3 771.4 1006.2 771.4 1006.2 27.7 1012 27.7ZM1537.5 463.6 1530.7 466.7 1525 471.3 1520.1 477.9 1516.8 486.4 1516.1 495 1518.6 506.4 1523.6 514.9 1530.7 521.3 1531.4 523.4 1524.5 529.1 1519 537.7 1516.5 546.2 1516.2 554.8 1519.6 566.2 1523.4 571.9 1527.9 576.3 1533.6 579.8 1539.3 582 1550.7 582.9 1562.1 579.9 1570.6 574.8 1579 566.2 1584.2 557.6 1587.4 549.1 1588.6 540.5 1587.1 534.8 1581.6 526.3 1580.9 520.6 1587.5 509.2 1588.4 500.7 1586.2 492.1 1582.2 483.6 1576.3 475.5 1569.4 469.3 1562.1 465.1 1553.5 462.5 1545 462.1 1537.5 463.6Z"/>
<path fill="#3243ba" d="M1012 27.7 1750.3 27.7 1750.3 771.4 1006.2 771.4 1006.2 27.7 1012 27.7ZM1540.9 460.8 1533.6 463.2 1525 469.3 1519.3 476.9 1516.6 483.6 1515.4 492.1 1517.2 503.5 1521.3 512.1 1526.1 517.8 1530.7 521.4 1531.4 523.4 1524.3 529.1 1518.7 537.7 1516 546.2 1515.5 554.8 1516.5 560.8 1519.3 568.1 1522.2 572.5 1527.9 578.2 1533.6 581.8 1539.3 583.9 1550.7 584.9 1562.1 582.1 1570.6 577.3 1579.3 569 1586.3 557.6 1589.3 549.1 1590.4 540.5 1589 534.8 1582.5 523.4 1584 517.8 1589.4 509.2 1590.2 500.7 1588.1 492.1 1584.4 483.6 1579.2 475.9 1572.7 469.3 1564.9 464.2 1556.4 461 1547.8 460 1540.9 460.8Z"/>
<path fill="#2c4ac7" d="M1012 27.7 1750.3 27.7 1750.3 771.4 1006.2 771.4 1006.2 27.7 1012 27.7ZM1547.3 457.9 1536.4 460 1527.9 464.7 1520.7 472.2 1516.5 480.7 1514.7 492.1 1516.8 503.5 1521.1 512.1 1526 517.8 1530.7 521.4 1531.4 523.4 1524.1 529.1 1518.3 537.7 1515.4 546.2 1514.8 554.8 1517.2 566.2 1520.1 571.9 1525 577.9 1530.7 582.3 1536.4 585 1547.8 587.1 1559.2 585.5 1567.8 581.7 1576.9 574.7 1585.6 563.3 1590.5 551.9 1592.4 540.5 1591 534.8 1585.6 526.3 1584.7 520.6 1591.4 509.2 1592.4 503.5 1591 495 1587.7 485.9 1583.2 477.9 1576.3 469.7 1570.6 465.1 1562.1 460.5 1553.5 458.3 1547.3 457.9Z"/>
<path fill="#2053d4" d="M1012 27.7 1750.3 27.7 1750.3 771.4 1006.2 771.4 1006.2 27.7 1012 27.7ZM1536.2 457.9 1527.9 462.5 1522.2 467.8 1517.5 475 1514.7 483.6 1514.3 495 1517.5 506.4 1523.1 514.9 1529.8 520.6 1531.3 523.4 1524 529.1 1518 537.7 1514.4 549.1 1514.5 560.5 1516.5 567.5 1519.3 573.2 1527.9 582.5 1539.3 588.1 1547.8 589.3 1553.5 589 1564.9 585.7 1573.7 580.4 1582.4 571.9 1589.4 560.5 1593.4 549.1 1594.4 540.5 1593.2 534.8 1587.7 526 1587 520.6 1593.6 509.2 1594.2 500.7 1591.4 489.3 1587.5 480.7 1581.6 472.2 1573.5 464.4 1564.9 459.2 1556.4 456.4 1545 455.8 1536.2 457.9Z"/>
<path fill="#0f5cdd" d="M1012 27.7 1750.3 27.7 1750.3 771.4 1006.2 771.4 1006.2 27.7 1012 27.7ZM1537.9 455.1 1530.7 458.3 1522.2 465.4 1517.5 472.2 1514.3 480.7 1513.4 492.1 1516 503.5 1520.6 512.1 1530.7 521.6 1531.3 523.4 1523.8 529.1 1517.7 537.7 1513.8 549.1 1513.6 560.5 1515.8 569 1518.6 574.7 1522.2 579.6 1527.9 584.9 1539.3 590.4 1545 591.5 1553.5 591.5 1564.9 588.4 1576.3 581.4 1585.3 571.9 1591.8 560.5 1595.6 549.1 1596.6 540.5 1595.5 534.8 1590.4 526.3 1589.4 523.4 1589.6 520.6 1595.9 509.2 1596.4 500.7 1594.6 492.1 1590 480.7 1584.5 472.2 1576.3 463.6 1567.8 457.9 1556.4 454 1547.8 453.3 1537.9 455.1Z"/>
<path fill="#0363e1" d="M1012 27.7 1750.3 27.7 1750.3 771.4 1006.2 771.4 1006.2 27.7 1012 27.7ZM1539.1 452.2 1530.7 455.8 1522.2 462.7 1516.5 471.1 1513.6 478.9 1512.7 492.1 1515.5 503.5 1520.4 512.1 1529.7 520.6 1531.3 523.4 1523.6 529.1 1517.3 537.7 1513.2 549.1 1512.6 560.5 1513.6 566.2 1516.5 573.9 1519.3 578.7 1525 585.1 1530.7 589.2 1539.3 592.8 1545 594 1553.5 594 1564.9 591.2 1576.3 584.7 1586.1 574.7 1593 563.3 1597.2 551.9 1599 540.5 1598 534.8 1592.3 523.4 1592.5 520.6 1598.3 509.2 1598.7 500.7 1596.1 489.3 1591.1 477.9 1584.9 468.7 1576.9 460.8 1567.8 455 1559.2 451.9 1547.8 450.8 1539.1 452.2Z"/>
<path fill="#0268e1" d="M1012 27.7 1750.3 27.7 1750.3 771.4 1006.2 771.4 1006.2 27.7 1012 27.7ZM1540.1 449.4 1530.7 453.2 1522.2 460 1516.5 467.8 1512.7 477.9 1511.8 483.6 1512 492.1 1515.1 503.5 1520.1 512.1 1529.6 520.6 1531.3 523.4 1523.5 529.1 1517 537.7 1512.6 549.1 1511.7 560.5 1513.1 569 1515.3 574.7 1519.3 581.6 1525 587.7 1530.7 591.8 1539.3 595.4 1545 596.6 1553.5 596.8 1564.9 594.2 1576.3 588.1 1587.2 577.6 1594.4 566.2 1598.9 554.8 1601.3 543.4 1600.7 534.8 1595.5 523.4 1595.7 520.6 1600.9 509.2 1601.2 500.7 1598.6 489.3 1593.9 477.9 1587.7 468.1 1579.2 459.2 1570.6 453.4 1559.2 449.1 1550.7 448.1 1540.1 449.4Z"/>
<path fill="#046de0" d="M1012 27.7 1750.3 27.7 1750.3 771.4 1006.2 771.4 1006.2 27.7 1012 27.7ZM1540.3 446.5 1530.7 450.4 1522.2 457.1 1516.5 464.5 1512.1 475 1510.9 489.3 1513.5 500.7 1519.9 512.1 1529.5 520.6 1531.2 523.4 1523.3 529.1 1515.1 540.5 1511.4 551.9 1510.9 563.3 1512.6 571.9 1514.9 577.6 1519.3 584.7 1525 590.6 1530.7 594.6 1539.3 598.2 1545 599.4 1553.5 599.7 1564.9 597.3 1576.3 591.6 1587.7 581.3 1595.9 569 1600.7 557.6 1603.9 543.4 1603.5 534.8 1599.1 523.4 1599.3 520.6 1603.7 509.2 1604.1 503.5 1601.3 489.3 1596.9 477.9 1589.9 466.5 1582 457.9 1573.5 451.6 1562.1 446.8 1550.7 445.2 1540.3 446.5Z"/>
<path fill="#0871de" d="M1012 27.7 1750.3 27.7 1750.3 771.4 1006.2 771.4 1006.2 27.7 1012 27.7ZM1539.8 443.7 1530.7 447.5 1521.1 455.1 1515 463.6 1510.8 475 1510.1 489.3 1513 500.7 1519.7 512.1 1529.5 520.6 1531.2 523.4 1523.1 529.1 1514.7 540.5 1510.7 551.9 1510.1 566.2 1512.1 574.7 1514.4 580.4 1519.3 587.9 1525 593.6 1530.7 597.5 1539.3 601.2 1547.8 602.7 1556.4 602.6 1570.6 598.4 1581.2 591.8 1590.6 582.5 1599 569 1603.6 557.6 1606.7 543.4 1606.6 534.8 1603.1 523.4 1606.7 509.2 1606.6 500.7 1603.3 486.4 1598.6 475 1591.4 463.6 1582 453.8 1573.5 448 1562.1 443.5 1550.7 442.1 1539.8 443.7Z"/>
<path fill="#0d75dc" d="M1012 27.7 1750.3 27.7 1750.3 771.4 1006.2 771.4 1006.2 27.7 1012 27.7ZM1538.7 440.8 1527.9 446 1519.3 453.7 1513.6 462.2 1510 472.2 1509 486.4 1512.5 500.7 1519.4 512.1 1529.4 520.6 1531.2 523.4 1522.9 529.1 1517.9 534.8 1514.3 540.5 1510 551.9 1508.9 566.2 1510.5 574.7 1513.6 582.8 1519.3 591.3 1525 596.9 1530.7 600.7 1539.3 604.4 1547.8 606 1556.4 605.9 1570.6 602.2 1582 595.4 1591.7 586.1 1601 571.9 1606.6 557.6 1609.6 543.4 1609.8 534.8 1607.2 523.4 1609.9 509.2 1609.8 503.5 1607.1 489.3 1601.9 475 1595.3 463.6 1584.9 451.9 1573.5 444.2 1562.1 440 1550.7 438.8 1538.7 440.8Z"/>
<path fill="#1079da" d="M1012 27.7 1750.3 27.7 1750.3 771.4 1006.2 771.4 1006.2 27.7 1012 27.7ZM1537 438 1527.9 442.6 1519.3 450 1513.6 458.1 1509.2 469.3 1507.8 477.9 1508 486.4 1511.9 500.7 1519.2 512.1 1529.3 520.6 1531.2 523.4 1526.3 526.3 1519.9 532 1512.4 543.4 1508.6 554.8 1508 569 1509.7 577.6 1513.6 587 1519.3 595 1525 600.3 1533.6 605.6 1542.1 608.5 1550.7 609.7 1559.2 609.2 1573.5 604.9 1584.9 597.7 1596 586.1 1603.1 574.7 1609 560.5 1612.8 543.4 1613.1 534.8 1611.5 523.4 1613.2 509.2 1612.7 500.7 1608.7 483.6 1602.6 469.3 1595.3 457.9 1584.9 447.3 1573.5 440.1 1562.1 436.3 1547.8 435.5 1537 438Z"/>
<path fill="#127dd8" d="M1012 27.7 1750.3 27.7 1750.3 771.4 1006.2 771.4 1006.2 27.7 1012 27.7ZM1544.3 432.3 1533.6 435.7 1522.2 443.3 1513.6 453.7 1508.2 466.5 1506.7 475 1506.8 483.6 1510.2 497.8 1514.5 506.4 1518.9 512.1 1529.2 520.6 1531.1 523.4 1526.2 526.3 1519.7 532 1511.8 543.4 1507.8 554.8 1506.7 569 1508 577.6 1510.9 586.1 1516.5 595.5 1522.2 601.7 1527.9 606.1 1536.4 610.5 1545 612.9 1556.4 613.4 1570.6 610.3 1582 604.5 1593.6 594.7 1604 580.4 1611.5 563.3 1615.8 546.2 1616.7 537.7 1615.8 523.4 1616.7 506.4 1614.5 492.1 1609.1 475 1601.7 460.8 1592.7 449.4 1582 440.5 1570.6 434.7 1556.4 431.6 1544.3 432.3Z"/>
<path fill="#1481d6" d="M1012 27.7 1750.3 27.7 1750.3 771.4 1006.2 771.4 1006.2 27.7 1012 27.7ZM1539.7 429.5 1527.9 434.9 1519.3 442 1510.8 454.1 1506.5 466.5 1505.4 475 1505.7 483.6 1509.5 497.8 1514.1 506.4 1518.6 512.1 1529.2 520.6 1531.1 523.4 1526.1 526.3 1519.5 532 1511.3 543.4 1506.3 557.6 1505.5 571.9 1506.9 580.4 1510.8 590.9 1516.5 599.8 1522.2 605.8 1530.7 611.8 1539.3 615.4 1547.8 617.3 1559.2 617.4 1573.5 613.8 1587.7 605.6 1599.1 594.4 1608.2 580.4 1615.3 563.3 1619.8 543.4 1620.5 534.8 1620.1 503.5 1616.7 486.4 1610.5 469.3 1602.5 455.1 1592.7 443.7 1581.4 435.2 1567.8 429.3 1553.5 427.3 1539.7 429.5Z"/>
<path fill="#1485d4" d="M1012 27.7 1750.3 27.7 1750.3 771.4 1006.2 771.4 1006.2 27.7 1012 27.7ZM1545.2 423.8 1530.7 428.9 1519.3 437.5 1510.8 448.9 1506 460.8 1504.4 469.3 1504.1 477.9 1505.2 486.4 1507.7 495 1511.9 503.5 1515.9 509.2 1521.2 514.9 1529.1 520.6 1531.1 523.4 1526 526.3 1519.2 532 1510.8 543.4 1505.4 557.6 1504.2 566.2 1504.3 574.7 1506.5 586.1 1510 594.7 1515.5 603.2 1522.2 610.2 1530.7 616.1 1539.3 619.8 1547.8 621.7 1559.2 621.9 1573.5 618.7 1587.7 611.1 1599.6 600.4 1609.7 586.1 1617.4 569 1622.8 549.1 1624.6 534.8 1624.5 509.2 1621.3 489.3 1616 472.2 1609.2 457.9 1598.8 443.7 1587.7 433.9 1573.5 426.3 1559.2 423.1 1545.2 423.8Z"/>
<path fill="#1389d3" d="M1012 27.7 1750.3 27.7 1750.3 771.4 1006.2 771.4 1006.2 27.7 1012 27.7ZM1553.5 418.1 1539.3 420.6 1530.7 424.3 1525 427.9 1519.3 432.7 1513.6 439.2 1509.1 446.5 1505.5 455.1 1503.4 463.6 1502.6 472.2 1503.2 480.7 1506 492.1 1509.8 500.7 1515.5 509.2 1520.9 514.9 1529 520.6 1531.1 523.4 1525.8 526.3 1518.9 532 1510.3 543.4 1504.5 557.6 1502.6 571.9 1503.8 583.3 1507.3 594.7 1511.8 603.2 1519.3 612.3 1527.9 619.1 1536.4 623.4 1545 625.9 1556.4 627 1570.6 624.9 1584.9 618.8 1599.1 607.8 1609.7 594.7 1618.6 577.6 1624.8 558.9 1628.7 537.7 1629.2 517.8 1627.8 500.7 1623.3 480.7 1616.2 462 1607.1 446.5 1596.3 434.5 1582 424.6 1567.8 419.4 1553.5 418.1Z"/>
<path fill="#108ed2" d="M1012 27.7 1750.3 27.7 1750.3 771.4 1006.2 771.4 1006.2 27.7 1012 27.7ZM1541.7 415.2 1527.9 421.3 1516.5 430.8 1507.9 443.1 1503.3 455.1 1501.7 463.6 1501.4 475 1502.7 483.6 1505.2 492.1 1509.2 500.7 1515.1 509.2 1520.7 514.9 1528.9 520.6 1531 523.4 1525.7 526.3 1518.7 532 1513.6 537.7 1508.2 546.2 1504.5 554.8 1502.3 563.3 1501.3 571.9 1501.6 580.4 1503.8 591.8 1507.9 601.9 1513.6 610.8 1522.2 619.6 1530.7 625.4 1542.1 629.9 1550.7 631.5 1562.1 631.5 1576.3 628.2 1591.6 620.3 1604.5 608.9 1614.9 594.7 1624.2 574.7 1630.5 551.9 1633.3 532 1633 509.2 1629 486.4 1622.7 466.5 1613.4 447.8 1602 433.4 1587.7 422.2 1573.5 415.8 1564.9 413.9 1556.4 413.2 1541.7 415.2Z"/>
<path fill="#0c93d2" d="M1012 27.7 1750.3 27.7 1750.3 771.4 1006.2 771.4 1006.2 27.7 1012 27.7ZM1545.2 409.5 1530.7 414.8 1518.5 423.8 1513.3 429.5 1507.9 437.4 1501.9 452.2 1500.3 460.8 1500 472.2 1501.7 483.6 1504.4 492.1 1508.7 500.7 1514.8 509.2 1520.5 514.9 1528.9 520.6 1531 523.4 1525.6 526.3 1518.4 532 1513.2 537.7 1507.6 546.2 1503.7 554.8 1501.2 563.3 1500 580.4 1501.7 591.8 1505.7 603.2 1510.8 612.2 1519.3 622.1 1527.9 628.5 1539.3 633.9 1550.7 636.4 1562.1 636.6 1570.6 635.3 1579.2 632.7 1593.4 625.2 1605.8 614.6 1616.8 600.4 1626.6 580.4 1633.6 557.6 1637.5 534.8 1637.6 512.1 1634 489.3 1627.3 466.5 1617.9 446.5 1607.6 432.3 1593.4 419.8 1579.2 412.3 1570.6 409.7 1562.1 408.4 1553.5 408.3 1545.2 409.5Z"/>
<path fill="#0998d1" d="M1012 27.7 1750.3 27.7 1750.3 771.4 1006.2 771.4 1006.2 27.7 1012 27.7ZM1547.4 403.8 1539.3 405.9 1530.7 409.6 1522.2 415.2 1516.5 420.3 1507.4 432.3 1503.2 440.8 1500.4 449.4 1498.5 460.8 1498.6 472.2 1500.7 483.6 1503.7 492.1 1508.1 500.7 1514.4 509.2 1520.3 514.9 1527.9 519.8 1531 523.4 1525.5 526.3 1518.1 532 1512.8 537.7 1506.9 546.2 1502.9 554.8 1500.2 563.3 1498.7 571.9 1498.4 583.3 1500.9 597.5 1505.1 608.4 1510.8 617.9 1519.3 627.4 1527.9 633.7 1539.3 639.1 1550.7 641.7 1562.1 642 1579.2 638.6 1593.4 631.7 1607.7 620.3 1619.1 606 1629.3 586.1 1636.8 563.3 1641.8 537.7 1642.5 514.9 1639.2 492.1 1632.2 466.5 1623.6 446.5 1612 429.5 1599.1 417.2 1590.6 411.6 1582 407.5 1564.9 403.2 1556.4 402.9 1547.4 403.8Z"/>
<path fill="#079ccf" d="M1012 27.7 1750.3 27.7 1750.3 771.4 1006.2 771.4 1006.2 27.7 1012 27.7ZM1547.4 398.1 1539.3 400.3 1530.7 404 1522.2 409.5 1516.5 414.5 1510.8 421 1505.2 429.5 1499.4 443.9 1497.1 455.1 1496.8 466.5 1498.2 477.9 1501.7 489.3 1505.8 497.8 1511.6 506.4 1520 514.9 1527.9 519.9 1531 523.4 1525.4 526.3 1517.8 532 1510.1 540.5 1504.8 549.1 1500.9 557.6 1498.4 566.2 1497 574.7 1496.8 586.1 1498.4 597.5 1502.2 609.3 1507.9 620 1516.5 630.5 1525 637.6 1536.4 643.7 1547.8 647 1562.1 647.9 1579.2 644.9 1587.7 641.6 1596.3 637 1610.5 625.6 1623.7 608.9 1633.6 589 1641.8 563.3 1646.8 537.7 1647.5 514.9 1643.6 489.3 1635.4 460.8 1626.5 440.8 1614.5 423.8 1602 412 1593.4 406.3 1584.9 402.2 1576.3 399.3 1564.9 397.3 1556.4 397.1 1547.4 398.1Z"/>
<path fill="#06a0cd" d="M1012 27.7 1750.3 27.7 1750.3 771.4 1006.2 771.4 1006.2 27.7 1012 27.7ZM1545.3 392.4 1536.4 395.2 1527.9 399.4 1515.1 409.5 1504.4 423.8 1497.5 440.8 1495.3 452.2 1495.2 466.5 1497 477.9 1500.8 489.3 1505.2 497.8 1511.2 506.4 1519.8 514.9 1527.9 519.9 1530.9 523.4 1525.2 526.3 1517.5 532 1509.6 540.5 1504.1 549.1 1500 557.6 1496.6 569 1495.3 577.6 1495 589 1497.2 603.2 1501.1 614.6 1507.9 626.9 1516.5 636.9 1527.9 645.6 1539.3 650.8 1550.7 653.6 1564.9 654.2 1582 650.8 1599.1 642.8 1613.4 631.5 1620.9 623.1 1627 614.6 1637.3 594.7 1646.5 566.2 1652.2 537.7 1652.9 514.9 1649 489.3 1640.2 457.9 1629.9 435.2 1617.7 418.1 1610.5 410.8 1602 404.1 1584.9 395.2 1576.3 392.6 1564.9 390.8 1553.5 391 1545.3 392.4Z"/>
<path fill="#06a4ca" d="M1012 27.7 1750.3 27.7 1750.3 771.4 1006.2 771.4 1006.2 27.7 1012 27.7ZM1558.8 383.9 1547.8 385.2 1536.4 388.6 1527.9 392.7 1519.3 398.7 1510.8 407.2 1505.1 415 1496.9 432.3 1494.1 443.7 1493 457.9 1494.5 472.2 1497.6 483.6 1502.8 495 1510.8 506.4 1519.6 514.9 1527.9 520 1530.9 523.4 1525.1 526.3 1517.2 532 1509.1 540.5 1503.3 549.1 1498 560.5 1495.3 569 1493.4 580.4 1493 589 1494.5 603.2 1498.6 617.4 1505.1 630.1 1513.6 641 1525 650.5 1536.4 656.4 1547.8 659.8 1562.1 661.2 1570.6 660.6 1582 658.2 1599.1 650.9 1607.7 645.4 1616.2 638.2 1629.1 623.1 1640.2 603.2 1649.3 577.6 1657.2 543.4 1659 520.6 1656 495 1647.3 460.8 1638.5 438 1627.6 419.7 1613.4 404.2 1604.8 397.6 1596.3 392.5 1587.7 388.7 1576.3 385.4 1558.8 383.9Z"/>
<path fill="#06a7c6" d="M1012 27.7 1750.3 27.7 1750.3 771.4 1006.2 771.4 1006.2 27.7 1012 27.7ZM1546.4 378.2 1536.4 381.3 1527.9 385.4 1513.6 396.4 1507.9 402.8 1501.6 412.4 1496.5 423.2 1493.6 432.3 1491.2 446.5 1491.3 460.8 1493.8 475 1497.7 486.4 1503.8 497.8 1510.3 506.4 1515.9 512.1 1523.3 517.8 1527.9 520.1 1530.9 523.4 1520.5 529.1 1513.9 534.8 1506.4 543.4 1501 551.9 1495.8 563.3 1492.6 574.7 1491.1 586.1 1491.2 597.5 1493.7 612.9 1499.4 628.4 1507.9 642.2 1516.5 651.3 1527.9 659.6 1539.3 664.8 1553.5 668.1 1567.8 668.4 1576.3 667.4 1587.7 664.4 1604.8 656.4 1613.4 650.6 1621.9 643.1 1629.6 634.5 1636.2 625.4 1647.4 603.2 1657.3 571.9 1664 540.5 1665.3 526.3 1665.1 514.9 1660.5 486.4 1650.3 449.4 1640.3 426.6 1627.6 408.1 1619.1 399.2 1610.5 392.3 1601.6 386.7 1590.6 381.6 1579.2 378.2 1567.8 376.5 1556.4 376.6 1546.4 378.2Z"/>
<path fill="#07a9c2" d="M1012 27.7 1750.3 27.7 1750.3 771.4 1006.2 771.4 1006.2 27.7 1012 27.7ZM1549.1 369.6 1539.3 372.3 1530.7 375.9 1522.2 381 1513.6 388 1505.1 397.8 1499.5 406.7 1495.4 415.2 1491.6 426.6 1489.1 440.8 1488.9 455.1 1490.9 469.3 1495.5 483.6 1501.3 495 1509.8 506.4 1515.5 512.1 1523.1 517.8 1527.9 520.1 1530.9 523.4 1520.3 529.1 1513.5 534.8 1505.8 543.4 1498.6 554.8 1493.7 566.2 1490.5 577.6 1488.9 589 1488.8 600.4 1491.4 617.4 1496.5 632.4 1504.2 645.9 1513.6 657 1525 665.9 1539.3 672.7 1553.5 676.1 1567.8 676.7 1576.3 675.8 1587.7 673.2 1599.1 668.9 1607.7 664.4 1624.8 651.6 1633.3 642.6 1641.3 631.7 1647.9 620.3 1653 608.9 1662.9 577.6 1670.9 540.5 1672.2 526.3 1672 514.9 1670.3 500.7 1666.8 483.6 1655.8 443.7 1645.9 420.9 1633.3 402.4 1624.8 393.4 1616.2 386.3 1604.8 379 1593.4 373.8 1582 370.3 1570.6 368.5 1559.2 368.4 1549.1 369.6Z"/>
<path fill="#0aacbe" d="M1012 27.7 1750.3 27.7 1750.3 771.4 1006.2 771.4 1006.2 27.7 1012 27.7ZM1548.2 361.1 1536.4 364.6 1527.9 368.6 1519.3 374.1 1510.8 381.6 1504 389.6 1498.4 398.1 1493 409.5 1489.3 420.9 1486.8 435.2 1486.5 452.2 1488.6 466.5 1493.1 480.7 1500.5 495 1509.3 506.4 1515.2 512.1 1522.9 517.8 1527.9 520.2 1530.8 523.4 1520.1 529.1 1513.1 534.8 1505.2 543.4 1497.7 554.8 1492.4 566.2 1488.2 580.4 1486.6 591.8 1486.5 606 1489.1 623.1 1495 640.2 1503.3 654.5 1513.6 666.1 1525 674.7 1539.3 681.4 1553.5 684.9 1570.6 685.5 1582 684 1593.4 680.9 1604.8 676.2 1613.4 671.6 1621.9 665.7 1631.7 657.3 1639.6 648.8 1647.8 637.4 1654.3 626 1659.4 614.6 1669.1 583.3 1678.1 543.4 1679.6 529.1 1679.6 514.9 1677.9 500.7 1674.4 483.6 1662.2 438 1652.3 415.2 1645.3 403.8 1638.8 395.3 1630.5 386.5 1619.1 377.2 1607.7 370.2 1596.3 365.1 1584.9 361.7 1570.6 359.5 1559.2 359.5 1548.2 361.1Z"/>
<path fill="#0faeb9" d="M1012 27.7 1750.3 27.7 1750.3 771.4 1006.2 771.4 1006.2 27.7 1012 27.7ZM1561.9 349.7 1547.8 351.6 1536.4 355 1525 360.6 1516.5 366.4 1507.9 374.3 1499.4 385.3 1493.7 395.3 1488.1 409.5 1484.5 426.6 1483.6 443.7 1485.6 460.8 1489.6 475 1496.2 489.3 1506.2 503.5 1514.8 512.1 1527.9 520.2 1530.8 523.4 1519.8 529.1 1512.7 534.8 1504.6 543.4 1496.7 554.8 1491.1 566.2 1486.5 580.4 1484.4 591.8 1483.6 606 1485.7 626 1490.8 643.1 1497.8 657.3 1507.9 670.7 1519.3 680.7 1533.6 688.8 1550.7 694 1567.8 695.4 1579.2 694.5 1590.6 692.2 1602 688.4 1613.4 683 1624.8 675.9 1633.8 668.7 1642.5 660.2 1651.6 648.8 1663.1 628.8 1672.5 603.2 1685.4 549.1 1687.5 534.8 1688.1 520.6 1687.1 506.4 1684.7 492.1 1672.2 440.8 1662.6 415.2 1650.4 394.6 1641.9 384.2 1632.7 375.3 1621.9 367.1 1610.5 360.5 1599.1 355.5 1587.7 352.1 1573.5 349.9 1561.9 349.7Z"/>
<path fill="#15b1b4" d="M1012 27.7 1750.3 27.7 1750.3 771.4 1006.2 771.4 1006.2 27.7 1012 27.7ZM1547.2 341.2 1536.4 344.4 1525 349.8 1516.5 355.4 1507.9 362.9 1499.8 372.5 1493.7 382.1 1488 394.4 1484.1 406.7 1481.2 423.8 1480.8 440.8 1483 457.9 1488.2 475 1495.2 489.3 1505.6 503.5 1514.5 512.1 1527.9 520.3 1530.8 523.4 1519.6 529.1 1509.2 537.7 1499.5 549.1 1492.5 560.5 1486.4 574.7 1482.6 589 1480.8 603.2 1480.9 617.4 1483.9 637.4 1489.5 654.5 1499.4 672 1510.8 684.8 1525 695.2 1539.3 701.6 1556.4 705.5 1573.5 706 1587.7 704.1 1599.1 701.1 1613.4 695.3 1624.8 689 1636.2 680.9 1644.7 673.3 1654.1 663 1662.3 651.6 1674 628.8 1683.1 600.4 1695.2 546.2 1697.2 529.1 1697.1 514.9 1695.5 500.7 1692.1 483.6 1683.5 446.5 1677.8 426.6 1672.4 412.4 1666.8 401 1659.8 389.6 1650.9 378.2 1639.4 366.8 1627.6 357.8 1616.2 351.1 1602 344.9 1587.7 340.9 1573.5 339 1559.2 339.2 1547.2 341.2Z"/>
<path fill="#1db3af" d="M1012 27.7 1750.3 27.7 1750.3 771.4 1006.2 771.4 1006.2 27.7 1012 27.7ZM1545.6 329.8 1533.6 333.7 1522.2 339.5 1510.8 347.7 1502.9 355.4 1496.2 363.9 1489.4 375.3 1484.5 386.7 1480.4 401 1477.8 418.1 1477.7 438 1480.2 455.1 1485.5 472.2 1492.4 486.4 1502.5 500.7 1514.1 512.1 1527.9 520.4 1530.8 523.4 1519.4 529.1 1508.7 537.7 1498.7 549.1 1489.8 563.3 1483.7 577.6 1479.8 591.8 1477.6 608.9 1477.7 626 1480.8 645.9 1487.6 665.9 1496.5 681.5 1507.9 694.7 1522.2 705.5 1539.3 713.4 1556.4 717.3 1576.3 717.8 1590.6 715.8 1604.8 711.9 1616.2 707.4 1629.9 700 1641.9 691.7 1651.9 683 1661.8 672.2 1670.6 660.2 1677.3 648.8 1683.7 634.5 1692.5 606 1705.9 543.4 1707.5 526.3 1707.1 512.1 1702.5 483.6 1692.3 438 1686.5 418.1 1681 403.8 1675.2 392.4 1668.1 381 1659 369.5 1647.6 358.1 1633.3 347.1 1619.1 339 1604.8 333.1 1587.7 328.6 1573.5 327 1559.2 327.4 1545.6 329.8Z"/>
<path fill="#25b5a9" d="M1012 27.7 1750.3 27.7 1750.3 771.4 1006.2 771.4 1006.2 27.7 1012 27.7ZM1550.4 315.5 1536.4 319.4 1525 324.4 1513.6 331.6 1502.7 341.2 1495.5 349.7 1488 361.4 1481.6 375.3 1477.3 389.6 1474.2 409.5 1474 429.5 1476.6 449.4 1482.7 469.3 1491.3 486.4 1501.8 500.7 1513.8 512.1 1527.9 520.4 1530.7 523.4 1519.1 529.1 1508.2 537.7 1495.7 551.9 1487 566.2 1480.9 580.4 1476.2 597.5 1474 614.6 1473.9 631.7 1477.1 654.5 1483.5 674.4 1493.7 692.8 1505.1 706.2 1519.3 717.3 1536.4 725.6 1556.4 730.5 1576.3 731.2 1590.6 729.6 1607.7 725.2 1621.9 719.6 1636.2 711.9 1650.4 701.9 1661.8 691.7 1672.3 680.1 1680.6 668.7 1692.7 645.9 1702 617.4 1717 546.2 1718.8 529.1 1718.8 514.9 1714.7 486.4 1703.1 432.3 1697.6 412.4 1692.3 398.1 1686.8 386.7 1678.9 373.8 1670.4 362.5 1658.1 349.7 1644.7 338.8 1630.5 329.8 1613.4 321.8 1599.1 317.3 1582 314.2 1564.9 313.7 1550.4 315.5Z"/>
<path fill="#2eb7a4" d="M1012 27.7 1750.3 27.7 1750.3 771.4 1006.2 771.4 1006.2 27.7 1012 27.7ZM1547.4 301.3 1533.6 305.5 1522.2 310.7 1510.8 318.1 1499.4 328.3 1490.8 338.8 1482.6 352.6 1476.8 366.8 1472.9 381 1470 401 1470 423.8 1473.4 446.5 1479.7 466.5 1488.3 483.6 1501 500.7 1513.4 512.1 1527.9 520.5 1530.7 523.4 1518.8 529.1 1504.6 540.5 1492.6 554.8 1484.1 569 1476.9 586.1 1471.9 606 1469.7 626 1470.2 645.9 1474 668.7 1480.9 688.6 1490.8 706.2 1497.2 714.3 1505.1 722.2 1522.2 734.3 1539.3 741.5 1559.2 745.7 1582 746 1596.3 743.9 1613.4 739.3 1630.5 732.2 1644.7 724.3 1659 714.2 1671.6 702.9 1682 691.5 1692.4 677.3 1699.1 665.9 1705.7 651.6 1714.6 623.1 1729.9 546.2 1731.8 529.1 1731.5 512.1 1728.8 492.1 1716.9 432.3 1709.5 403.8 1704.1 389.6 1697 375.3 1687.9 361.1 1678.9 349.9 1664.7 335.6 1650.4 324.5 1633.3 314.2 1616.2 306.7 1599.1 301.7 1582 299 1564.9 298.8 1547.4 301.3Z"/>
<path fill="#38b99e" d="M1012 27.7 1750.3 27.7 1750.3 771.4 1006.2 771.4 1006.2 27.7 1012 27.7ZM1547.6 284.2 1533.6 288.3 1519.3 294.9 1507.9 302.3 1496.5 312.5 1488 322.8 1479.4 336.7 1473.7 349.7 1468.7 366.8 1465.4 389.6 1465.4 415.2 1468.6 438 1475.4 460.8 1485.2 480.7 1497.6 497.8 1512.9 512.1 1527.9 520.6 1530.6 523.4 1518.5 529.1 1504 540.5 1491.6 554.8 1481 571.9 1472.7 591.8 1467.7 611.7 1465.2 631.7 1465.3 654.5 1468.5 677.3 1475.6 700 1485.1 718.1 1490.8 726 1499.4 735.4 1516.5 748.5 1536.4 757.7 1547.8 760.9 1559.2 762.7 1582 763.2 1599.1 760.9 1616.2 756.5 1633.3 749.8 1650.4 740.8 1667.5 729 1681.1 717.1 1694.2 702.9 1704.7 688.6 1711.6 677.3 1718.5 663 1723.8 648.8 1728.6 631.7 1744.7 546.2 1746.4 529.1 1746.2 512.1 1743.6 492.1 1731.4 426.6 1724.4 398.1 1718.1 381 1711 366.8 1702.1 352.6 1691 338.3 1677 324.1 1661.8 311.7 1644.7 300.9 1624.8 291.5 1604.8 285.3 1584.9 282 1564.9 281.7 1547.6 284.2Z"/>
<path fill="#42bb98" d="M1012 27.7 1750.3 27.7 1750.3 414.8 1740.1 386.7 1730.7 363.9 1717.3 341.2 1701.7 321.6 1683.5 304.1 1661.8 288.3 1639 276.1 1613.4 267 1587.7 262.3 1564.9 262 1542.1 265.8 1530.7 269.5 1519.3 274.6 1502.2 285.8 1486.8 301.3 1479.4 311.7 1474.1 321.2 1466.2 341.2 1460.9 366.8 1459.5 395.3 1462.4 423.8 1465.5 438 1469.9 452.2 1480.3 475 1494.3 495 1508.8 509.2 1516.7 514.9 1527.8 520.6 1530.4 523.4 1518.1 529.1 1510 534.8 1500.4 543.4 1486.3 560.5 1474.9 580.4 1466.5 603.2 1461.6 626 1459.5 651.6 1460.7 677.3 1463.1 691.5 1466.8 705.7 1472.3 720 1478.3 731.4 1485.1 741.5 1493.7 751.4 1505.1 761.4 1515.7 771.4 1006.2 771.4 1006.2 27.7 1012 27.7ZM1750.3 630.2 1750.3 771.4 1640.1 771.4 1659 758.5 1678.9 744.6 1696 729.3 1711.7 711.4 1723.4 694.3 1733.8 674.4 1741.3 654.5 1750.3 630.2Z"/>
<path fill="#4dbc92" d="M1012 27.7 1750.3 27.7 1750.3 348.5 1734.1 326.9 1718.8 307.5 1701.7 290.3 1681.8 274.3 1661.8 261.8 1639 251.1 1616.2 243.6 1593.4 239.4 1570.6 238.5 1550.7 240.6 1530.7 245.9 1510.8 255.3 1496.5 265.4 1482.3 279.9 1470.9 296.9 1462.3 315.9 1458.2 329.8 1455.3 344 1453.7 358.3 1453 375.3 1453.8 392.4 1455.8 409.5 1459.1 426.6 1463.1 440.8 1473.8 466.5 1480.4 477.9 1488.5 489.3 1498.6 500.7 1508.2 509.2 1516.4 514.9 1527.6 520.6 1530.3 523.4 1517.8 529.1 1505.9 537.7 1494.1 549.1 1482.9 563.3 1474.3 577.6 1466.5 594.7 1460.9 611.7 1456.9 628.8 1454.1 648.8 1453.1 668.7 1453.8 688.6 1456.7 708.6 1461.2 725.7 1468 742.7 1476.3 757 1485.1 771.4 1006.2 771.4 1006.2 27.7 1012 27.7ZM1750.3 696.5 1750.3 771.4 1684.9 771.4 1704.6 752.1 1721.7 734.2 1735.9 715.5 1750.3 696.5Z"/>
<path fill="#59bd8c" d="M1012 27.7 1750.3 27.7 1750.3 301 1730.4 281.3 1713.1 265 1693.2 249.6 1673.2 237.1 1650.4 226 1630.5 218.8 1607.7 213.3 1584.9 210.7 1562.1 211.1 1542.1 214.3 1522.2 220.7 1505.1 229.4 1490.8 239.7 1476.6 254.2 1465.2 270.6 1456.6 288.5 1451.5 304.1 1448.1 319.8 1445.9 338.3 1445.3 355.4 1446.1 375.3 1448.5 395.3 1452.3 415.2 1457 432.3 1463.3 449.4 1470.1 463.6 1478.7 477.9 1487.2 489.3 1504.1 506.4 1516 514.9 1527.4 520.6 1530.2 523.4 1517.5 529.1 1505.3 537.7 1493.1 549.1 1483.5 560.5 1473.9 574.7 1466.3 589 1460.3 603.2 1454.8 620.3 1450.1 640.2 1447.1 660.2 1445.5 680.1 1445.5 700 1447.3 720 1450.5 737.1 1455.7 754.2 1461.9 771.4 1006.2 771.4 1006.2 27.7 1012 27.7ZM1750.3 744 1750.3 771.4 1725.7 771.4 1750.3 744Z"/>
<path fill="#65be86" d="M1012 27.7 1750.3 27.7 1750.3 253.1 1730.2 237.2 1710.3 221.7 1690.3 208.8 1667.5 197 1644.7 187.9 1621.9 181.4 1599.1 177.5 1576.3 176.2 1553.5 177.7 1533.6 181.8 1513.6 188.9 1496.5 198.1 1482.3 208.7 1468 223.5 1457.4 238.6 1448.8 255.7 1442.8 272.8 1438.9 289.9 1436.3 309.8 1435.5 329.8 1436.3 349.7 1438.7 372.5 1442.8 395.3 1448.7 418.1 1455.6 438 1463.2 455.1 1471.3 469.3 1481.3 483.6 1491.1 495 1503.4 506.4 1515.6 514.9 1527.3 520.6 1530.1 523.4 1517.2 529.1 1508.4 534.8 1494.9 546.2 1484.3 557.6 1475.7 569 1466.8 583.3 1459.6 597.5 1452.7 614.6 1446.5 634.5 1441.9 654.5 1438.5 674.4 1436.3 694.3 1435.5 714.3 1436.2 734.2 1438.2 751.3 1441.8 771.4 1006.2 771.4 1006.2 27.7 1012 27.7Z"/>
<path fill="#71bf80" d="M1012 27.7 1750.3 27.7 1750.3 198.9 1727.4 183.8 1704.6 169.4 1681.8 157.5 1659 148.1 1633.3 140.2 1610.5 135.5 1587.7 133.1 1564.9 133.1 1542.1 135.7 1522.2 140.5 1502.2 148.2 1485.1 157.9 1470.9 168.8 1456.6 183.5 1445.9 198.7 1437.1 215.8 1430.9 232.9 1426.1 252.9 1423.2 275.7 1422.6 298.4 1424 324.1 1427.2 349.7 1432.8 378.2 1439.6 403.8 1446.3 423.8 1454.7 443.7 1463.8 460.8 1475.2 477.9 1487.2 492.1 1499.3 503.5 1510.6 512.1 1527.1 520.6 1530 523.4 1516.9 529.1 1507.9 534.8 1497 543.4 1485.5 554.8 1475.9 566.2 1466.1 580.4 1458 594.7 1451.2 608.9 1444.5 626 1438.2 645.9 1428.4 688.6 1425 711.4 1423.1 731.4 1422.5 751.3 1423.2 771.4 1006.2 771.4 1006.2 27.7 1012 27.7Z"/>
<path fill="#7cbf7b" d="M1012 27.7 1750.3 27.7 1750.3 132.9 1724.5 118.7 1698.9 105.3 1676.1 95.6 1650.4 86.9 1624.8 80.7 1599.1 76.8 1573.5 75.3 1550.7 76.3 1527.9 79.7 1507.9 85 1488 92.8 1470.9 102.2 1455.9 113.3 1441.4 127.5 1428.7 144.6 1419.6 161.7 1412.2 181.7 1407 204.4 1404.2 230.1 1404 255.7 1406.1 284.2 1410.8 315.5 1417.4 346.9 1426.7 381 1436.3 409.5 1445.8 432.3 1456 452.2 1469 472.2 1483.2 489.3 1498.4 503.5 1510.1 512.1 1527 520.6 1529.8 523.4 1516.6 529.1 1507.2 534.8 1486.9 551.9 1467.6 574.7 1458.2 589 1450.4 603.2 1435.6 637.4 1422.1 680.1 1411.5 725.7 1405.4 771.4 1006.2 771.4 1006.2 27.7 1012 27.7Z"/>
<path fill="#87bf77" d="M1012 27.7 1434 27.7 1414.1 47.8 1399.6 65.6 1387.3 87.7 1378.5 113.3 1373.7 141.8 1372.6 173.1 1375 207.3 1380.8 244.3 1392.7 295.6 1408.9 349.7 1427.6 401 1444.7 438 1462.5 466.5 1481.7 489.3 1501.2 506.4 1514.3 514.9 1526.8 520.6 1529.7 523.4 1516.2 529.1 1506.6 534.8 1485.6 551.9 1465.4 574.7 1448.4 600.4 1432.8 631.7 1418.1 668.7 1401.1 720 1387.9 771.4 1006.2 771.4 1006.2 27.7 1012 27.7ZM1718.8 27.7 1750.3 27.7 1750.3 46 1717.2 27.7 1718.8 27.7Z"/>
<path fill="#92bf73" d="M1012 27.7 1302.2 27.7 1303.7 56.3 1308.8 87.7 1317 121.8 1329 161.7 1346.6 213 1370 275.7 1398.4 346.9 1420.4 398.1 1433 423.8 1444.3 443.7 1455.7 460.8 1469.4 477.9 1483.2 492.1 1496.6 503.5 1509 512.1 1526.6 520.6 1529.6 523.4 1510.6 532 1497.8 540.5 1487.4 549.1 1467.8 569 1448.5 594.7 1433.5 620.3 1418.3 651.6 1397.6 700 1370.4 771.4 1006.2 771.4 1006.2 27.7 1012 27.7Z"/>
<path fill="#9cbf6f" d="M1012 27.7 1174.9 27.7 1185.9 40.7 1214.4 69.8 1242.9 103.4 1268.5 137.5 1297 180 1319.8 217.6 1339.8 252.8 1368.3 306.7 1418.7 406.7 1433.3 432.3 1446.4 452.2 1464.7 475 1485 495 1503.8 509.2 1513.6 514.9 1526.5 520.6 1529.5 523.4 1510.1 532 1489.5 546.2 1468.2 566.2 1447.1 591.8 1432.1 614.6 1419.2 637.4 1352.6 771.4 1006.2 771.4 1006.2 27.7 1012 27.7Z"/>
<path fill="#a5be6b" d="M1010 50.6 1006.2 51.2 1006.2 49 1010 50.6ZM1011.8 62 1012 62.9 1046.2 65.3 1071.9 69.9 1100.4 77.7 1126 87.4 1154.5 101.2 1180.2 116.5 1205.8 134.7 1231.5 156 1254.3 177.6 1277.1 202.1 1299.9 229.5 1322.7 260 1342.6 289.1 1362.6 320.5 1423.2 423.8 1447.5 457.9 1467.9 480.7 1487.1 497.8 1503 509.2 1513.6 515.2 1526.3 520.6 1529.4 523.4 1509.6 532 1488.3 546.2 1466 566.2 1445.9 589 1433.3 606 1420.2 626 1368.3 715.1 1334.3 771.4 1006.2 771.4 1006.2 68.7 1010.9 67.7 1011.1 64.9 1006.2 64.1 1006.2 59.6 1011.8 62Z"/>
<path fill="#aebe67" d="M1010.5 113.3 1012 114.1 1046.2 116.2 1071.9 120.2 1097.5 126.2 1126 135.4 1151.7 146.1 1180.2 160.7 1208.7 178.4 1234.3 197.3 1257.1 216.5 1279.9 238.1 1302.7 262.3 1322.7 285.7 1342.6 311.4 1362.6 339.3 1420 426.6 1434.8 446.5 1451.7 466.5 1465.8 480.7 1485.8 497.8 1502.3 509.2 1513.6 515.4 1526.1 520.6 1529.3 523.4 1509.1 532 1490.9 543.4 1467 563.3 1442.5 589 1416.7 623.1 1354 717.9 1334.1 744.9 1315.1 771.4 1006.2 771.4 1006.2 116.9 1010.5 116.1 1006.2 112.2 1010.5 113.3Z"/>
<path fill="#b7bd64" d="M1010.9 141.8 1012 144.2 1046.2 146.2 1080.4 151.5 1106.1 157.7 1131.7 166 1160.2 177.6 1185.9 190.4 1211.5 205.5 1237.2 223.2 1260 241.1 1282.8 261.3 1305.6 283.9 1325.5 305.8 1359.7 348.3 1420 432.3 1433.8 449.4 1449.2 466.5 1467.1 483.6 1484.6 497.8 1502.2 509.6 1513.6 515.7 1526 520.6 1529.1 523.4 1508.6 532 1490 543.4 1465.2 563.3 1445 583.3 1430.2 600.4 1416.9 617.4 1371.1 682.5 1348.3 713.1 1325.5 741 1300.5 771.4 1006.2 771.4 1006.2 140.8 1010.9 141.8Z"/>
<path fill="#c0bc60" d="M1012 167.1 1040.5 168.4 1069 171.9 1097.5 177.6 1126 185.7 1151.7 195 1180.2 207.8 1208.7 223.2 1234.3 239.5 1257.1 256.1 1279.9 274.7 1302.7 295.7 1322.7 316 1359.7 359 1418.4 435.2 1433.1 452.2 1449.7 469.3 1468.8 486.4 1487.5 500.7 1502.2 510 1513.6 515.9 1525.8 520.6 1529 523.4 1508.1 532 1489.2 543.4 1467 560.5 1445.6 580.4 1429.9 597.5 1415.7 614.6 1365.4 681.7 1342.6 710.1 1314.1 741.9 1287 771.4 1006.2 771.4 1006.2 168.5 1012 167.1Z"/>
<path fill="#c8bc5d" d="M1012 186.6 1043.4 188.1 1071.9 191.6 1100.4 197.3 1128.9 205.2 1154.5 214.3 1183 226.6 1208.7 239.9 1237.2 257.2 1257.1 271.1 1279.9 288.7 1302.7 308.6 1322.7 327.8 1356.9 365.2 1416.9 438 1432.7 455.1 1450.4 472.2 1467.1 486.4 1486.5 500.7 1502.2 510.4 1513.6 516.1 1525.7 520.6 1528.9 523.4 1513.6 529.1 1492.7 540.5 1469.1 557.6 1446.4 577.6 1429.7 594.7 1414.7 611.7 1362.6 677.2 1334.1 710.3 1302.7 742.2 1272.7 771.4 1006.2 771.4 1006.2 185.3 1012 186.6Z"/>
<path fill="#d1bb59" d="M1012 203.7 1040.5 204.9 1069 208.1 1097.5 213.4 1126 220.7 1151.7 229.2 1180.2 240.7 1208.7 254.7 1234.3 269.4 1254.3 282.4 1277.1 299 1299.9 317.7 1319.8 335.8 1354 371 1415.6 440.8 1448 472.2 1469.1 489.3 1490.8 504.2 1513.6 516.4 1525.5 520.6 1528.8 523.4 1507.9 531.5 1492 540.5 1471.4 554.8 1447.4 574.7 1416.3 606 1356.9 676.4 1328.4 707.3 1294.2 739.5 1257.7 771.4 1006.2 771.4 1006.2 204.1 1012 203.7Z"/>
<path fill="#d9ba56" d="M1012 219.1 1040.5 220.2 1069 223.3 1097.5 228.3 1126 235.4 1151.7 243.5 1180.2 254.6 1208.7 268 1234.3 282.1 1257.1 296.4 1277.1 310.5 1297 326 1317 343.2 1348.3 373.5 1414.4 443.7 1435.5 463.6 1450.9 476.7 1473.7 493.8 1490.8 504.9 1513.6 516.6 1525.3 520.6 1528.7 523.4 1513.6 528.6 1493.7 539 1470.9 554.2 1448.6 571.9 1415.7 603.2 1351.2 675.3 1319.8 707.1 1282.8 739.1 1262.8 754 1241.5 771.4 1006.2 771.4 1006.2 218.8 1012 219.1Z"/>
<path fill="#e1b952" d="M1010.2 235.8 1012 237.1 1043.4 238.4 1074.7 242 1100.4 246.5 1126 252.7 1151.7 260.4 1180.2 270.9 1205.8 282.3 1231.5 295.5 1271.4 320.2 1311.3 350.4 1342.6 378.5 1409 443.7 1445.2 474.6 1468 491.3 1485.1 502.3 1505.1 513.1 1525.2 520.6 1528.5 523.4 1513.6 528.3 1493.7 538.5 1472.6 551.9 1450 569 1430.1 586.1 1412.3 603.2 1348.3 671.2 1314.1 704 1294.2 720.9 1271.4 738.2 1248.6 753.7 1223.9 771.4 1006.2 771.4 1006.2 235.3 1010.2 235.8Z"/>
<path fill="#e9b94e" d="M1009.7 255.7 1043.4 257.4 1069 260 1097.5 264.5 1123.2 270.2 1148.8 277.3 1177.3 287.2 1203 297.7 1228.6 310.1 1268.5 333.2 1305.6 359.4 1336.9 385.2 1405.4 446.5 1445.6 477.9 1466.7 492.1 1488 504.8 1510.8 516.1 1525 520.6 1528.4 523.4 1513.6 528.1 1496.5 536.4 1473.7 550.2 1453.8 564.3 1437 577.6 1414.2 597.5 1339.8 671.5 1302.7 704.2 1279.9 721.6 1254.3 739 1228.6 754.2 1203 767.3 1200.7 771.4 1006.2 771.4 1009.7 255.7Z"/>
<path fill="#f1b94a" d="M1012 273.3 1040.5 274.3 1066.2 276.7 1091.8 280.3 1120.3 286.1 1146 292.7 1171.6 300.9 1197.3 310.7 1222.9 322.1 1262.8 343.6 1299.9 367.8 1331.2 391.7 1402.5 450 1442.4 478.7 1465.2 493.1 1485.1 504.4 1510.8 516.4 1525 520.8 1528.3 523.4 1513.6 527.8 1496.5 536 1473.7 549.2 1452.7 563.3 1430 580.4 1409.6 597.5 1336.9 665.2 1299.9 696.1 1277.1 712.7 1254.3 727.4 1231.5 740.5 1208.7 752 1169.7 771.4 1006.2 771.4 1006.2 273.8 1012 273.3Z"/>
<path fill="#f8bb44" d="M1012 296.6 1037.7 297.3 1066.2 299.7 1091.8 303.1 1117.5 307.9 1143.1 314.1 1168.8 321.6 1194.4 330.7 1217.2 340 1251.4 356.6 1288.5 378.2 1319.8 399.2 1390.1 449.4 1439.2 480.7 1485.1 505.7 1510.8 516.8 1525 521 1528.2 523.4 1513.6 527.6 1493.7 536.7 1473.7 548 1450 563.3 1426.2 580.4 1404.6 597.5 1334.1 659.1 1299.9 686.4 1279.9 700.5 1257.1 715 1214.4 737.8 1171.6 755.5 1130.1 771.4 1006.2 771.4 1006.2 296.1 1012 296.6Z"/>
<path fill="#fdbe3d" d="M1012 319.6 1037.7 320.3 1063.3 322.2 1111.8 329.2 1160.2 340.9 1185.9 349 1208.7 357.5 1240 371.1 1274.2 388.7 1379.8 452.2 1436.7 483.8 1485.1 507.2 1510.8 517.2 1525 521.2 1528.1 523.4 1513.6 527.4 1493.7 535.8 1476.6 544.9 1448.1 562.3 1419.6 582 1396.8 599.3 1331.2 653.3 1297 679.2 1260 703.1 1220.1 724.3 1194.4 735.5 1165.9 746 1137.4 754.7 1108.9 761.4 1065.7 771.4 1006.2 771.4 1006.2 319.1 1012 319.6Z"/>
<path fill="#ffc337" d="M1012 347 1057.6 349 1103.2 354.7 1148.8 364.3 1191.6 377 1222.9 388.7 1254.3 402.2 1368.8 457.9 1437.6 489.3 1485.1 508.9 1510.8 517.6 1519.3 519.4 1525 521.4 1527.9 523.4 1513.6 527.1 1499.4 532.4 1470.3 546.2 1443.8 560.5 1392.2 591.8 1314.1 645.3 1282.8 665.4 1248.6 684.6 1211.5 701.9 1188.7 710.8 1163.1 719.4 1114.6 731.7 1066.2 739.3 1006.2 742.9 1006.2 347 1012 347Z"/>
<path fill="#fec832" d="M1012 369.4 1054.8 371.2 1097.5 376.1 1138.4 383.9 1180.2 395 1237.2 414.6 1361.2 463.6 1458 500.7 1499.8 514.9 1505.1 515.5 1510.1 517.8 1519.3 519.5 1527.8 523.4 1513.6 526.9 1498.4 532 1456.6 549.1 1386 583.3 1265.7 647.9 1228.6 665.1 1200.1 676.5 1157.4 690.2 1134.6 696 1106.1 701.8 1063.3 707.5 1006.2 710.4 1006.2 369.3 1012 369.4Z"/>
<path fill="#fcce2e" d="M1012 383 1051.9 384.6 1094.7 389.3 1134.6 396.5 1174.5 406.3 1245.7 428.8 1470.6 506.4 1485.1 510.3 1488.7 512.1 1493.7 512.7 1498.4 514.9 1505.1 515.8 1509 517.8 1519.3 519.6 1527.5 523.4 1513.6 526.6 1496.2 532 1452.3 549.1 1369.1 586.1 1251.4 642.4 1220.1 655.6 1188.7 667 1146 679.4 1100.4 688.8 1054.8 694.2 1006.2 696 1006.2 382.4 1012 383Z"/>
<path fill="#fad32a" d="M1012 391.4 1049.1 392.7 1089 396.8 1128.9 403.5 1168.8 412.7 1242.9 434.1 1374 475.3 1477.7 509.2 1493.7 513 1497.2 514.9 1505.1 516 1508 517.8 1519.3 519.8 1527.2 523.4 1494.4 532 1455 546.2 1363 583.3 1240 635.2 1208.7 647.1 1180.2 656.6 1137.4 668 1094.7 676 1051.9 680.8 1006.2 682.2 1006.2 391.4 1012 391.4Z"/>
<path fill="#f7d826" d="M1012 399.6 1060.5 401.9 1089 404.9 1126 410.9 1165.9 419.4 1231.5 436.3 1322.7 462 1399.6 484.8 1476.6 509.3 1493.7 513.3 1496.5 515 1505.1 516.3 1507.9 517.9 1519.3 519.9 1526.9 523.4 1502.2 529.1 1458.8 543.4 1237.2 624.8 1177.3 644.4 1131.7 655.9 1083.3 664.1 1046.2 667.6 1006.2 668.1 1006.2 399.6 1012 399.6Z"/>
<path fill="#f5de21" d="M1012 404.2 1049.1 405.5 1089 409.4 1126 415.3 1171.6 424.8 1240 441.9 1339.8 468.7 1416.7 491 1476.6 509.7 1493.7 513.7 1496.5 515.3 1505.1 516.6 1507.9 518.1 1519.3 520 1526.6 523.4 1502.2 528.8 1473.7 537.6 1237.2 618.8 1168.8 639.8 1128.9 649.3 1089 656.1 1049.8 660.2 1006.2 661.7 1006.2 404.5 1012 404.2Z"/>
<path fill="#f5e41d" d="M1012 408.5 1049.1 409.8 1089 413.6 1131.7 420.3 1177.3 429.7 1254.3 448 1339.8 470.1 1405.3 488.5 1476.6 510.2 1493.7 514 1496.5 515.6 1505.1 516.8 1507.9 518.3 1519.3 520.2 1526.3 523.4 1502.2 528.5 1482.3 534.3 1254.3 607.9 1203 623.6 1165.9 633.7 1124.5 643.1 1086.1 649.3 1049.1 653 1006.2 654.4 1006.2 408.6 1012 408.5Z"/>
<path fill="#f5eb18" d="M1012 413 1051.9 414.5 1091.8 418.3 1137.4 425.4 1188.7 435.6 1268.5 453.8 1339.8 471.4 1413.9 491.7 1476.6 510.6 1493.7 514.3 1496.5 515.9 1505.1 517.1 1507.9 518.5 1519.3 520.3 1526 523.4 1502.2 528.2 1482.3 533.8 1328.4 581.5 1222.9 611.7 1165.9 626.7 1126 635.3 1086.1 641.7 1049.1 645.3 1006.2 646.7 1006.2 413.2 1012 413Z"/>
<path fill="#f6f313" d="M1012 417.7 1054.8 419.3 1097.5 423.6 1146 431 1205.8 442.5 1282.8 459.1 1345.5 474.1 1411 491.6 1476.6 511 1482.3 511.7 1485.1 513.3 1505.1 517.4 1507.9 518.7 1519.3 520.4 1525.7 523.4 1502.2 527.9 1482.3 533.2 1388.2 561.8 1317 581.6 1231.5 603.8 1171.6 618.2 1128.9 626.9 1089 633.2 1049.1 637.1 1012 638.4 1006.2 637.7 1006.2 417.6 1012 417.7Z"/>
<path fill="#f9fb0e" d="M1012 422.9 1048 423.8 1103.2 428.9 1163.1 437.9 1225.6 449.4 1260 457 1267.8 457.9 1271.4 459.4 1281.3 460.8 1285.6 462.5 1294.2 463.5 1299.9 465.6 1319.8 469.3 1322.7 470.7 1331.2 472 1336.9 474.1 1355.4 477.9 1359.7 479.7 1377.9 483.6 1382.5 485.5 1388.9 486.4 1393.9 488.5 1400 489.3 1402.5 490.8 1410 492.1 1425.3 497.1 1431 497.8 1433.8 499.5 1450.9 503.4 1453.8 505.1 1470.9 509.1 1476.6 511.4 1482.3 512 1485.1 513.7 1493.2 514.9 1496.5 516.5 1505.1 517.7 1507.9 519 1519.3 520.5 1525.4 523.4 1490.8 530.4 1396.8 557.7 1331.2 575 1260 591.9 1181.6 608.9 1134.6 617.8 1091.8 624.1 1060.5 627.3 1032 628.9 1006.2 629.2 1006.2 422.9 1012 422.9Z"/>
</g>
<ellipse cx="1010.4" cy="524.2" rx="526.5" ry="49.2" fill="none" stroke="#e35a12" stroke-width="4.4"/>
<ellipse cx="1009.2" cy="522.5" rx="526.5" ry="49.2" fill="#fff" stroke="#000" stroke-width="4"/>
</g>
<path d="M110.3 147.4L114.5 147.5L118.7 147.6L122.9 147.8L127 148L131.1 148.3L135.2 148.6L139.3 149L143.4 149.4L147.5 149.9L151.5 150.4L155.5 151L159.5 151.6L163.5 152.3L167.5 153L171.5 153.7L175.4 154.5L176.4 154.7M201.6 161.1L205.5 162.2L209.3 163.4L213 164.6L216.8 165.9L220.6 167.2L224.3 168.5L228 169.9L231.7 171.3L235.4 172.7L239.1 174.2L242.7 175.8L246.4 177.3L250 178.9L253.6 180.6L257.2 182.2L260.7 183.9L264.3 185.7L267.8 187.5L271.3 189.3L274.8 191.1L278.3 193L281.7 194.9L285.2 196.9L288.6 198.9L292 200.9L295.4 202.9L298.8 205L302.1 207.1L305.4 209.2L308.8 211.4L312.1 213.6L315.3 215.8L318.6 218.1L321.8 220.3L325.1 222.6L328.3 225L331.5 227.3L334.6 229.7L337.8 232.1L340.9 234.6L344 237L347.1 239.5L350.2 242L353.3 244.6L356.3 247.1L359.3 249.7L362.3 252.3L365.3 255L368.3 257.6L371.2 260.3L374.1 263L377.1 265.7L380 268.4L382.8 271.2L385.7 273.9L388.5 276.7L391.4 279.5L394.2 282.4L397 285.2L399.8 288.1L402.5 291L405.3 293.9L408 296.8L410.7 299.7L413.4 302.6M430.7 322.1L433.3 325.1L435.9 328.2L438.5 331.3L441.1 334.3L443.7 337.4L446.2 340.5L448.8 343.6L451.3 346.7L453.9 349.9L456.4 353L458.9 356.1L461.4 359.3L463.9 362.4L466.4 365.6L468.8 368.7L471.3 371.9L473.8 375.1L476.2 378.3L478.7 381.4L481.1 384.6L483.5 387.8L486 391L488.4 394.2L490.8 397.4L493.2 400.6L495.6 403.8L498 407L500.4 410.2L502.8 413.4L505.2 416.6L507.6 419.8L510 423L512.4 426.2L514.7 429.4L517.1 432.6L519.5 435.8L521.8 439L524.2 442.2L526.6 445.4L528.9 448.5L531.3 451.7L533.7 454.9L536 458L538.4 461.2L540.8 464.3L543.1 467.5L545.5 470.6L547.8 473.7L550.2 476.8L552.6 479.9L554.9 483L557.3 486.1L559.7 489.2L562.1 492.3L564.4 495.3L565.6 496.8M612.7 543.7L611.2 545.2L609.8 546.6L608.4 548.1L606.9 549.6L605.5 551.1L604 552.6L602.6 554.1L601.1 555.5L599.7 557L598.2 558.5L596.8 560L595.3 561.5L593.9 562.9L592.4 564.4L591 565.9L589.6 567.4L588.1 568.9L586.7 570.3L585.2 571.8L583.8 573.3L582.3 574.8L580.8 576.2L579.4 577.7L577.9 579.2L576.5 580.7L575 582.1L573.6 583.6L572.1 585.1L570.7 586.6L569.2 588.1L567.8 589.5L566.3 591L564.9 592.5L563.4 594L562 595.4L560.5 596.9L559.1 598.4L557.6 599.9L556.2 601.3L554.7 602.8L553.3 604.3L551.8 605.8L550.4 607.2L548.9 608.7L547.5 610.2L546 611.7L544.6 613.2L543.1 614.6L541.7 616.1L540.2 617.6L538.8 619.1L537.3 620.6L535.9 622L534.4 623.5L533 625L531.5 626.5L530.1 628L528.6 629.5L527.2 630.9L525.7 632.4L524.3 633.9L522.9 635.4L521.4 636.9L520 638.4L518.5 639.8L517.1 641.3L515.7 642.8L514.2 644.3L512.8 645.8L511.3 647.3L509.9 648.8L508.5 650.3L507 651.8L505.6 653.3L504.2 654.8L502.7 656.3L501.3 657.8L499.9 659.2L498.4 660.7L497 662.2L495.6 663.7L494.2 665.2L492.7 666.7L491.3 668.3L489.9 669.8L488.5 671.3L487.1 672.8L485.6 674.3L484.2 675.8L482.8 677.3L481.4 678.8L480 680.3L478.6 681.8L477.2 683.3L475.7 684.9L474.3 686.4L472.9 687.9L471.5 689.4L470.1 690.9L468.7 692.5L467.3 694L465.9 695.5L464.5 697L463.1 698.6L461.7 700.1L460.3 701.6L458.9 703.1L457.6 704.7L456.2 706.2L454.8 707.8L453.4 709.3L452 710.8L450.6 712.4L449.3 713.9L447.9 715.5L446.5 717L445.1 718.6L443.8 720.1L442.4 721.7L441 723.2L439.7 724.8L438.3 726.3L436.9 727.9L435.6 729.4L434.2 731L432.9 732.6L431.5 734.1L430.1 735.7L428.8 737.3M412.4 756.7L411.1 758.2L409.8 759.8L408.5 761.4L407.2 763L405.9 764.7L404.6 766.3L403.3 767.9L402 769.5L401.3 770.3M1009.2 119.2L1013.4 119.4L1017.5 119.6L1021.7 119.9L1025.8 120.3L1029.9 120.7L1034.1 121.1L1038.2 121.6L1042.4 122.2L1046.5 122.8L1050.6 123.5L1054.7 124.2M1080.3 129.8L1084.3 130.9L1088.4 132L1092.4 133.2L1096.4 134.4L1100.4 135.7L1104.4 137L1108.3 138.3L1112.3 139.7L1116.2 141.2L1120.1 142.7L1124 144.2L1127.9 145.8L1131.8 147.4L1135.6 149.1L1139.4 150.8L1143.2 152.6L1147 154.4L1150.7 156.2L1154.5 158.1L1158.2 160.1L1161.8 162L1165.5 164L1169.1 166.1L1172.7 168.2L1176.3 170.3L1179.8 172.5L1183.3 174.7L1186.8 176.9L1190.3 179.2L1193.8 181.5L1197.2 183.9L1200.6 186.2L1204 188.6L1207.4 191.1L1210.7 193.6L1214 196.1L1217.3 198.6L1220.6 201.2L1223.9 203.7L1227.1 206.4L1230.3 209L1233.5 211.7L1236.7 214.4L1239.9 217.1L1243 219.8L1246.1 222.6L1249.2 225.4L1252.3 228.2L1255.4 231.1L1258.4 233.9L1261.5 236.8L1264.5 239.7L1267.5 242.6L1270.5 245.5L1273.4 248.5L1276.4 251.4L1279.3 254.4L1282.2 257.4L1285.1 260.4L1288 263.4L1290.9 266.4L1293.8 269.5M1310.7 288L1313.4 291.1L1316.2 294.2L1319 297.4L1321.7 300.5L1324.5 303.7L1327.2 306.8L1329.9 310L1332.6 313.2L1335.4 316.3L1338.1 319.5L1340.8 322.7L1343.4 325.9L1346.1 329.1L1348.8 332.3L1351.5 335.5L1354.1 338.7L1356.8 341.9L1359.4 345.2L1362 348.4L1364.7 351.6L1367.3 354.9L1369.9 358.2L1372.5 361.4L1375.1 364.7L1377.6 368L1380.2 371.3L1382.7 374.6L1385.3 377.9L1387.8 381.2L1390.4 384.5L1392.9 387.8L1395.4 391.2L1397.9 394.5L1400.5 397.8L1403 401.2L1405.5 404.5L1408 407.8L1410.5 411.2L1413 414.5L1415.5 417.8L1418.1 421.2L1420.6 424.5L1423.1 427.8L1425.6 431.1L1428.2 434.4L1430.7 437.8L1433.2 441.1L1435.8 444.4L1438.3 447.7L1440.9 451L1443.5 454.2L1446.1 457.5L1448.7 460.8L1451.3 464L1453.9 467.3L1456.5 470.5L1459.2 473.7L1461.9 476.9L1464.5 480.1L1467.2 483.3L1470 486.5L1472.7 489.6L1475.4 492.8L1478.2 495.9L1479.6 497.4M1486.6 547.7L1485.1 549L1483.7 550.3L1482.3 551.6L1481 552.9L1479.6 554.2L1478.2 555.6L1476.8 556.9L1475.5 558.2L1474.1 559.6L1472.7 560.9L1471.4 562.3L1470.1 563.6L1468.7 565L1467.4 566.4L1466.1 567.7L1464.8 569.1L1463.5 570.5L1462.2 571.9L1460.9 573.3L1459.6 574.7L1458.3 576.1L1457 577.5L1455.8 578.9L1454.5 580.3L1453.3 581.7L1452 583.2L1450.8 584.6L1449.5 586L1448.3 587.5L1447 588.9L1445.8 590.4L1444.6 591.8L1443.4 593.3L1442.2 594.7L1441 596.2L1439.8 597.7L1438.6 599.2L1437.4 600.6L1436.2 602.1L1435 603.6L1433.8 605.1L1432.6 606.6L1431.5 608.1L1430.3 609.6L1429.1 611.1L1428 612.6L1426.8 614.1L1425.6 615.6L1424.5 617.1L1423.3 618.6L1422.2 620.1L1421.1 621.6L1419.9 623.2L1418.8 624.7L1417.6 626.2L1416.5 627.7L1415.4 629.3L1414.3 630.8L1413.1 632.4L1412 633.9L1410.9 635.4L1409.8 637L1408.7 638.5L1407.6 640.1L1406.5 641.6L1405.4 643.2L1404.3 644.7L1403.2 646.3L1402.1 647.8L1401 649.4L1399.9 650.9L1398.8 652.5L1397.7 654.1L1396.6 655.6L1395.5 657.2L1394.4 658.8L1393.3 660.3L1392.2 661.9L1391.2 663.4L1390.1 665L1389 666.6L1387.9 668.2L1386.8 669.7L1385.7 671.3L1384.6 672.9L1383.6 674.4L1382.5 676L1381.4 677.6L1380.3 679.1L1379.2 680.7L1378.2 682.3L1377.1 683.9L1376 685.4L1374.9 687L1373.8 688.6L1372.8 690.1L1371.7 691.7L1370.6 693.3L1369.5 694.8L1368.4 696.4L1367.3 698L1366.2 699.5L1365.1 701.1L1364.1 702.7L1363 704.2L1361.9 705.8L1360.8 707.3L1359.7 708.9L1358.6 710.5L1357.5 712L1356.4 713.6L1355.3 715.1L1354.2 716.7L1353.1 718.2L1352 719.8L1350.9 721.3L1349.7 722.9L1348.6 724.4L1347.5 726L1346.4 727.5L1345.3 729L1344.1 730.6L1343 732.1L1341.9 733.6L1340.8 735.2L1339.6 736.7L1338.5 738.2M1322.7 758.5L1321.5 759.9L1320.3 761.4L1319.1 762.9L1317.9 764.4L1316.7 765.8L1315.5 767.3L1314.3 768.7L1313 770.2L1311.8 771.6L1311.5 772" stroke="#000" stroke-width="2.1" fill="none" stroke-linejoin="round" stroke-linecap="butt"/>
<text transform="translate(189.1 157.7) rotate(14.1)" font-size="22" text-anchor="middle" y="7.9">0</text>
<text transform="translate(422.2 312.3) rotate(48.4)" font-size="22" text-anchor="middle" y="7.9">0</text>
<text transform="translate(420.4 747.1) rotate(-49.9)" font-size="22" text-anchor="middle" y="7.9">0</text>
<text transform="translate(1068.1 126.9) rotate(12.5)" font-size="22" text-anchor="middle" y="7.9">0</text>
<text transform="translate(1302.3 278.7) rotate(47.6)" font-size="22" text-anchor="middle" y="7.9">0</text>
<text transform="translate(1330.7 748.4) rotate(-52.2)" font-size="22" text-anchor="middle" y="7.9">0</text>
<path d="M1009.2 768.4v-12M1009.2 30.7h12M1133.3 768.4v-12M1009.2 153.6h12M1254.1 768.4v-12M1009.2 276.6h12M1376.5 768.4v-12M1009.2 399.5h12M1499.1 768.4v-12M1009.2 522.5h12M1623.9 768.4v-12M1009.2 645.5h12M1747.3 768.4v-12M1009.2 768.4h12" stroke="#000" stroke-width="1.6" fill="none"/>
<rect x="1009.2" y="30.7" width="738.1" height="737.7" fill="none" stroke="#000" stroke-width="4.2"/>
<text transform="translate(1009.2 803) scale(0.965 1)" font-size="32" text-anchor="middle">0</text>
<text transform="translate(997.9 40.8) scale(0.965 1)" font-size="32" text-anchor="end"><tspan dy="2.6">−</tspan><tspan dy="-2.6">6</tspan></text>
<text transform="translate(1133.3 803) scale(0.965 1)" font-size="32" text-anchor="middle">1</text>
<text transform="translate(997.9 163.7) scale(0.965 1)" font-size="32" text-anchor="end"><tspan dy="2.6">−</tspan><tspan dy="-2.6">7</tspan></text>
<text transform="translate(1254.1 803) scale(0.965 1)" font-size="32" text-anchor="middle">2</text>
<text transform="translate(997.9 286.7) scale(0.965 1)" font-size="32" text-anchor="end"><tspan dy="2.6">−</tspan><tspan dy="-2.6">8</tspan></text>
<text transform="translate(1376.5 803) scale(0.965 1)" font-size="32" text-anchor="middle">3</text>
<text transform="translate(997.9 409.6) scale(0.965 1)" font-size="32" text-anchor="end"><tspan dy="2.6">−</tspan><tspan dy="-2.6">9</tspan></text>
<text transform="translate(1499.1 803) scale(0.965 1)" font-size="32" text-anchor="middle">4</text>
<text transform="translate(997.9 532.6) scale(0.965 1)" font-size="32" text-anchor="end"><tspan dy="2.6">−</tspan><tspan dy="-2.6">10</tspan></text>
<text transform="translate(1623.9 803) scale(0.965 1)" font-size="32" text-anchor="middle">5</text>
<text transform="translate(997.9 655.6) scale(0.965 1)" font-size="32" text-anchor="end"><tspan dy="2.6">−</tspan><tspan dy="-2.6">11</tspan></text>
<text transform="translate(1747.3 803) scale(0.965 1)" font-size="32" text-anchor="middle">6</text>
<text transform="translate(997.9 778.5) scale(0.965 1)" font-size="32" text-anchor="end"><tspan dy="2.6">−</tspan><tspan dy="-2.6">12</tspan></text>
<text transform="translate(1378.2 843) scale(0.955 1)" font-size="31.5" text-anchor="middle">Radial distance (km)</text>
<text transform="translate(922.2 400) rotate(-90) scale(0.955 1)" font-size="31.5" text-anchor="middle">Depth (km)</text>
<text transform="translate(0 31) scale(0.890 1)" font-size="42" text-anchor="start" font-weight="bold">a</text>
<text transform="translate(898 31)" font-size="42" text-anchor="start" font-weight="bold">b</text>
<rect x="479.3" y="955.5" width="12.1" height="44" fill="#f9fb0e"/>
<rect x="490.8" y="955.5" width="12.1" height="44" fill="#f6f313"/>
<rect x="502.4" y="955.5" width="12.1" height="44" fill="#f5eb18"/>
<rect x="513.9" y="955.5" width="12.1" height="44" fill="#f5e41d"/>
<rect x="525.4" y="955.5" width="12.1" height="44" fill="#f5de21"/>
<rect x="536.9" y="955.5" width="12.1" height="44" fill="#f7d826"/>
<rect x="548.5" y="955.5" width="12.1" height="44" fill="#fad32a"/>
<rect x="560" y="955.5" width="12.1" height="44" fill="#fcce2e"/>
<rect x="571.5" y="955.5" width="12.1" height="44" fill="#fec832"/>
<rect x="583.1" y="955.5" width="12.1" height="44" fill="#ffc337"/>
<rect x="594.6" y="955.5" width="12.1" height="44" fill="#fdbe3d"/>
<rect x="606.1" y="955.5" width="12.1" height="44" fill="#f8bb44"/>
<rect x="617.7" y="955.5" width="12.1" height="44" fill="#f1b94a"/>
<rect x="629.2" y="955.5" width="12.1" height="44" fill="#e9b94e"/>
<rect x="640.7" y="955.5" width="12.1" height="44" fill="#e1b952"/>
<rect x="652.2" y="955.5" width="12.1" height="44" fill="#d9ba56"/>
<rect x="663.8" y="955.5" width="12.1" height="44" fill="#d1bb59"/>
<rect x="675.3" y="955.5" width="12.1" height="44" fill="#c8bc5d"/>
<rect x="686.8" y="955.5" width="12.1" height="44" fill="#c0bc60"/>
<rect x="698.4" y="955.5" width="12.1" height="44" fill="#b7bd64"/>
<rect x="709.9" y="955.5" width="12.1" height="44" fill="#aebe67"/>
<rect x="721.4" y="955.5" width="12.1" height="44" fill="#a5be6b"/>
<rect x="733" y="955.5" width="12.1" height="44" fill="#9cbf6f"/>
<rect x="744.5" y="955.5" width="12.1" height="44" fill="#92bf73"/>
<rect x="756" y="955.5" width="12.1" height="44" fill="#87bf77"/>
<rect x="767.5" y="955.5" width="12.1" height="44" fill="#7cbf7b"/>
<rect x="779.1" y="955.5" width="12.1" height="44" fill="#71bf80"/>
<rect x="790.6" y="955.5" width="12.1" height="44" fill="#65be86"/>
<rect x="802.1" y="955.5" width="12.1" height="44" fill="#59bd8c"/>
<rect x="813.7" y="955.5" width="12.1" height="44" fill="#4dbc92"/>
<rect x="825.2" y="955.5" width="12.1" height="44" fill="#42bb98"/>
<rect x="836.7" y="955.5" width="12.1" height="44" fill="#38b99e"/>
<rect x="848.2" y="955.5" width="12.1" height="44" fill="#2eb7a4"/>
<rect x="859.8" y="955.5" width="12.1" height="44" fill="#25b5a9"/>
<rect x="871.3" y="955.5" width="12.1" height="44" fill="#1db3af"/>
<rect x="882.8" y="955.5" width="12.1" height="44" fill="#15b1b4"/>
<rect x="894.4" y="955.5" width="12.1" height="44" fill="#0faeb9"/>
<rect x="905.9" y="955.5" width="12.1" height="44" fill="#0aacbe"/>
<rect x="917.4" y="955.5" width="12.1" height="44" fill="#07a9c2"/>
<rect x="929" y="955.5" width="12.1" height="44" fill="#06a7c6"/>
<rect x="940.5" y="955.5" width="12.1" height="44" fill="#06a4ca"/>
<rect x="952" y="955.5" width="12.1" height="44" fill="#06a0cd"/>
<rect x="963.5" y="955.5" width="12.1" height="44" fill="#079ccf"/>
<rect x="975.1" y="955.5" width="12.1" height="44" fill="#0998d1"/>
<rect x="986.6" y="955.5" width="12.1" height="44" fill="#0c93d2"/>
<rect x="998.1" y="955.5" width="12.1" height="44" fill="#108ed2"/>
<rect x="1009.7" y="955.5" width="12.1" height="44" fill="#1389d3"/>
<rect x="1021.2" y="955.5" width="12.1" height="44" fill="#1485d4"/>
<rect x="1032.7" y="955.5" width="12.1" height="44" fill="#1481d6"/>
<rect x="1044.3" y="955.5" width="12.1" height="44" fill="#127dd8"/>
<rect x="1055.8" y="955.5" width="12.1" height="44" fill="#1079da"/>
<rect x="1067.3" y="955.5" width="12.1" height="44" fill="#0d75dc"/>
<rect x="1078.8" y="955.5" width="12.1" height="44" fill="#0871de"/>
<rect x="1090.4" y="955.5" width="12.1" height="44" fill="#046de0"/>
<rect x="1101.9" y="955.5" width="12.1" height="44" fill="#0268e1"/>
<rect x="1113.4" y="955.5" width="12.1" height="44" fill="#0363e1"/>
<rect x="1125" y="955.5" width="12.1" height="44" fill="#0f5cdd"/>
<rect x="1136.5" y="955.5" width="12.1" height="44" fill="#2053d4"/>
<rect x="1148" y="955.5" width="12.1" height="44" fill="#2c4ac7"/>
<rect x="1159.6" y="955.5" width="12.1" height="44" fill="#3243ba"/>
<rect x="1171.1" y="955.5" width="12.1" height="44" fill="#353dad"/>
<rect x="1182.6" y="955.5" width="12.1" height="44" fill="#3637a0"/>
<rect x="1194.1" y="955.5" width="12.1" height="44" fill="#363093"/>
<rect x="1205.7" y="955.5" width="12.1" height="44" fill="#352a87"/>
<path d="M479.6 953.5V1001.5M1217.5 953.5V1001.5" stroke="#000" stroke-width="6.4"/>
<path d="M476.6 955.5H1220.5M476.6 999.5H1220.5" stroke="#000" stroke-width="4.3"/>
<text transform="translate(519.5 943) scale(0.965 1)" font-size="32" text-anchor="middle">1</text>
<text transform="translate(619.3 943) scale(0.965 1)" font-size="32" text-anchor="middle">0.5</text>
<text transform="translate(719.1 943) scale(0.965 1)" font-size="32" text-anchor="middle">0</text>
<text transform="translate(818.9 943) scale(0.965 1)" font-size="32" text-anchor="middle"><tspan dy="2.6">−</tspan><tspan dy="-2.6">0.5</tspan></text>
<text transform="translate(918.7 943) scale(0.965 1)" font-size="32" text-anchor="middle"><tspan dy="2.6">−</tspan><tspan dy="-2.6">1</tspan></text>
<text transform="translate(1018.5 943) scale(0.965 1)" font-size="32" text-anchor="middle"><tspan dy="2.6">−</tspan><tspan dy="-2.6">1.5</tspan></text>
<text transform="translate(1118.3 943) scale(0.965 1)" font-size="32" text-anchor="middle"><tspan dy="2.6">−</tspan><tspan dy="-2.6">2</tspan></text>
<text transform="translate(1218.1 943) scale(0.965 1)" font-size="32" text-anchor="middle"><tspan dy="2.6">−</tspan><tspan dy="-2.6">2.5</tspan></text>
<path d="M519.5 957.5v5M619.3 957.5v5M719.1 957.5v5M818.9 957.5v5M918.7 957.5v5M1018.5 957.5v5M1118.3 957.5v5" stroke="#000" stroke-width="1" fill="none"/>
<text transform="translate(848 1035.5) scale(0.960 1)" font-size="31" text-anchor="middle">σ<tspan font-size="23" dy="8">3</tspan><tspan dy="-8"> (MPa)</tspan></text>
</svg></body></html>
